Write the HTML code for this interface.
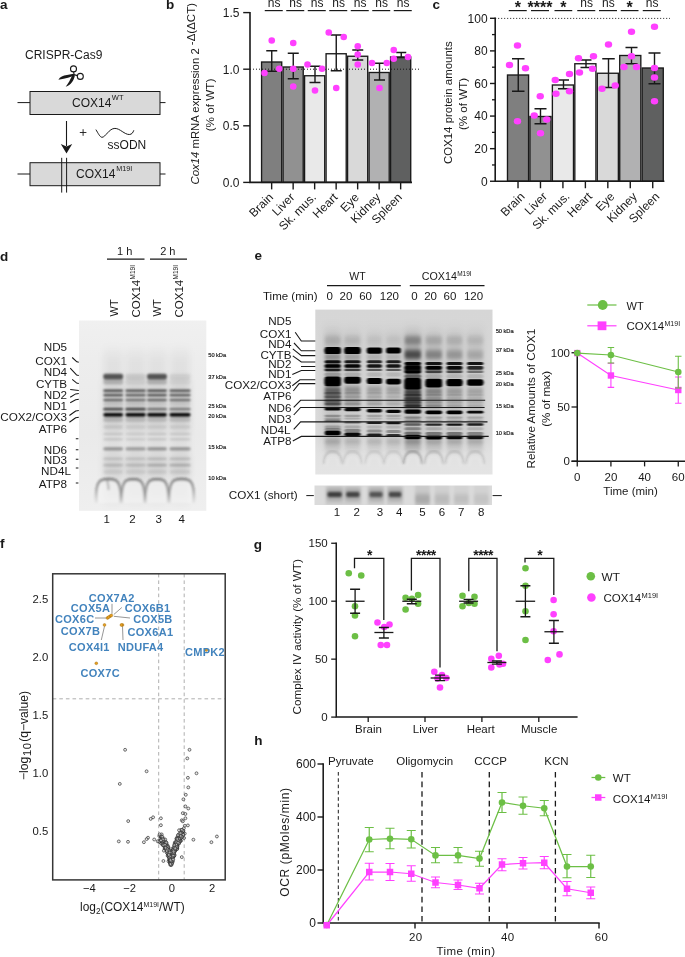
<!DOCTYPE html>
<html lang="en"><head><meta charset="utf-8"><title>Figure</title>
<style>
html,body{margin:0;padding:0;background:#fff;}
body{width:685px;height:957px;overflow:hidden;}
svg{display:block;}
</style></head><body>
<svg width="685" height="957" viewBox="0 0 685 957" font-family='"Liberation Sans", sans-serif' fill="#191919">
<defs>
<linearGradient id="archFade" gradientUnits="userSpaceOnUse" x1="0" y1="478" x2="0" y2="504">
<stop offset="0" stop-color="#000" stop-opacity="0.5"/><stop offset="0.45" stop-color="#000" stop-opacity="0.36"/><stop offset="1" stop-color="#000" stop-opacity="0.04"/>
</linearGradient>
<linearGradient id="gelDbg" x1="0" y1="0" x2="0" y2="1">
<stop offset="0" stop-color="#f0f0f0"/><stop offset="0.2" stop-color="#ededed"/><stop offset="0.6" stop-color="#eaeaea"/><stop offset="1" stop-color="#efefef"/>
</linearGradient>
<linearGradient id="gelEbg" x1="0" y1="0" x2="0" y2="1">
<stop offset="0" stop-color="#d6d6d6"/><stop offset="0.75" stop-color="#d9d9d9"/><stop offset="0.87" stop-color="#e1e1e1"/><stop offset="1" stop-color="#e4e4e4"/>
</linearGradient>
<clipPath id="clipD"><rect x="79" y="320.5" width="127.3" height="190.3"/></clipPath>
<clipPath id="clipE"><rect x="315.3" y="309.6" width="177.2" height="164.9"/></clipPath>
<clipPath id="clipE2"><rect x="314.5" y="485.5" width="177.5" height="19.5"/></clipPath>
<filter id="blurD" x="-10%" y="-10%" width="120%" height="120%"><feGaussianBlur stdDeviation="1.2 0.85"/></filter>
<filter id="blurE" x="-10%" y="-10%" width="120%" height="120%"><feGaussianBlur stdDeviation="1.15 0.7"/></filter>
<filter id="blurE3" x="-10%" y="-10%" width="120%" height="120%"><feGaussianBlur stdDeviation="1.5 2.2"/></filter>
<filter id="blurD2" x="-10%" y="-10%" width="120%" height="120%"><feGaussianBlur stdDeviation="1.3"/></filter>
<filter id="blurBig" x="-10%" y="-10%" width="120%" height="120%"><feGaussianBlur stdDeviation="3 6"/></filter>
</defs>
<g id="panel-a">
<text x="0" y="9.2" font-size="13.5" font-weight="bold">a</text>
<text x="25" y="58.75" font-size="12">CRISPR-Cas9</text>
<g id="scissors">
<circle cx="73.5" cy="68.9" r="3" fill="none" stroke="#191919" stroke-width="1.1"/>
<circle cx="80.3" cy="76.4" r="3" fill="none" stroke="#191919" stroke-width="1.1"/>
<path d="M58.4 79.7C60 76.6 63 75.6 67 74.9L73.6 73.7L74.6 75.2C71 77 66 78.6 58.4 79.7Z" fill="#191919"/>
<path d="M65.7 86.7C68 84 70.5 79.5 72.6 74.6L74.9 75.4C74 80 71 85 65.7 86.7Z" fill="#191919"/>
<path d="M73.6 71.9L74.2 75M77.4 75.6L74 74.6" fill="none" stroke="#191919" stroke-width="1.1"/>
</g>
<line x1="17.5" y1="102.6" x2="30" y2="102.6" stroke="#191919"/>
<line x1="160" y1="102.6" x2="165.5" y2="102.6" stroke="#191919"/>
<rect x="30" y="91.5" width="130" height="23" fill="#d9d9d9" stroke="#191919" stroke-width="1"/>
<text x="72" y="107" font-size="12">COX14<tspan font-size="7.5" dy="-7.4" dx="0.5">WT</tspan></text>
<line x1="66.5" y1="121" x2="66.5" y2="146" stroke-width="1.1" stroke="#191919"/>
<path d="M66.5 153.4L60.8 144.1L66.5 146.4L72.2 144.1Z" fill="#191919"/>
<path d="M79.8 132.5H86.4M83.1 129.2V135.8" fill="none" stroke="#191919" stroke-width="0.9"/>
<path d="M95.9 129.6C98 133 100 137.3 102 137.3C105.5 137.3 109 128.4 114.9 128.4C120 128.4 124.5 134.6 129.3 134.5C132 134.4 133 132.5 133.8 130.3" fill="none" stroke="#191919"/>
<text x="107.6" y="149" font-size="12">ssODN</text>
<line x1="17.5" y1="174" x2="30" y2="174" stroke="#191919"/>
<line x1="160" y1="174" x2="165.5" y2="174" stroke="#191919"/>
<rect x="30" y="162.7" width="130" height="23" fill="#d9d9d9" stroke="#191919" stroke-width="1"/>
<path d="M61.7 157.8V192.6M66.6 157.8V192.6" fill="none" stroke="#191919"/>
<text x="76" y="178" font-size="12">COX14<tspan font-size="7.2" dy="-7" dx="0.8">M19I</tspan></text>
</g>
<g id="panel-b">
<text x="166" y="9.1" font-size="13.5" font-weight="bold">b</text>
<text transform="translate(199 184.5) rotate(-90)" font-size="11.35"><tspan font-style="italic">Cox14</tspan> mRNA expression 2 <tspan font-size="11.5" dy="-4.5">-Δ(ΔCT)</tspan></text>
<text transform="translate(213.5 105) rotate(-90)" font-size="11.7" text-anchor="middle">(% of WT)</text>
<rect x="261.57" y="62" width="20.15" height="120.4" fill="#7f7f7f" stroke="#191919" stroke-width="1.35"/>
<rect x="283.07" y="67" width="20.15" height="115.4" fill="#919191" stroke="#191919" stroke-width="1.35"/>
<rect x="304.57" y="75.75" width="20.15" height="106.65" fill="#e9e9e9" stroke="#191919" stroke-width="1.35"/>
<rect x="326.07" y="53.75" width="20.15" height="128.65" fill="#ffffff" stroke="#191919" stroke-width="1.35"/>
<rect x="347.57" y="56.25" width="20.15" height="126.15" fill="#d9d9d9" stroke="#191919" stroke-width="1.35"/>
<rect x="369.07" y="72.5" width="20.15" height="109.9" fill="#b1b1b2" stroke="#191919" stroke-width="1.35"/>
<rect x="390.57" y="57" width="20.15" height="125.4" fill="#5f6060" stroke="#191919" stroke-width="1.35"/>
<line x1="250" y1="69.2" x2="421" y2="69.2" stroke="#191919" stroke-dasharray="1 2"/>
<path d="M271.75 50.75V71.25M266.25 50.75H277.25M266.25 71.25H277.25" fill="none" stroke="#191919" stroke-width="1.4"/>
<path d="M293.25 53.25V78.75M287.75 53.25H298.75M287.75 78.75H298.75" fill="none" stroke="#191919" stroke-width="1.4"/>
<path d="M315 66.25V82.5M309.5 66.25H320.5M309.5 82.5H320.5" fill="none" stroke="#191919" stroke-width="1.4"/>
<path d="M336.25 35V70.75M330.75 35H341.75M330.75 70.75H341.75" fill="none" stroke="#191919" stroke-width="1.4"/>
<path d="M357.75 50V60M352.25 50H363.25M352.25 60H363.25" fill="none" stroke="#191919" stroke-width="1.4"/>
<path d="M379.5 63.25V80M374 63.25H385M374 80H385" fill="none" stroke="#191919" stroke-width="1.4"/>
<path d="M401.25 52.5V57.5M396.25 52.5H406.25M396.25 57.5H406.25" fill="none" stroke="#191919" stroke-width="1.4"/>
<circle cx="271.75" cy="40.5" r="3.3" fill="#ff40ff"/>
<circle cx="264.5" cy="73" r="3.3" fill="#ff40ff"/>
<circle cx="279.25" cy="68.75" r="3.3" fill="#ff40ff"/>
<circle cx="293.25" cy="43" r="3.3" fill="#ff40ff"/>
<circle cx="293.25" cy="68.75" r="3.3" fill="#ff40ff"/>
<circle cx="293.25" cy="86.5" r="3.3" fill="#ff40ff"/>
<circle cx="307.5" cy="64.5" r="3.3" fill="#ff40ff"/>
<circle cx="322" cy="68.75" r="3.3" fill="#ff40ff"/>
<circle cx="315" cy="90.5" r="3.3" fill="#ff40ff"/>
<circle cx="328.75" cy="32.5" r="3.3" fill="#ff40ff"/>
<circle cx="343.75" cy="37" r="3.3" fill="#ff40ff"/>
<circle cx="336.25" cy="88" r="3.3" fill="#ff40ff"/>
<circle cx="357.75" cy="46.25" r="3.3" fill="#ff40ff"/>
<circle cx="357.75" cy="54.5" r="3.3" fill="#ff40ff"/>
<circle cx="357.75" cy="64.5" r="3.3" fill="#ff40ff"/>
<circle cx="372" cy="63" r="3.3" fill="#ff40ff"/>
<circle cx="386.75" cy="63" r="3.3" fill="#ff40ff"/>
<circle cx="379.5" cy="88" r="3.3" fill="#ff40ff"/>
<circle cx="393.75" cy="50" r="3.3" fill="#ff40ff"/>
<circle cx="393.75" cy="58.75" r="3.3" fill="#ff40ff"/>
<circle cx="408" cy="57" r="3.3" fill="#ff40ff"/>
<path d="M250 11.9V182.4H412" fill="none" stroke="#191919" stroke-width="1.6"/>
<line x1="243.2" y1="182.4" x2="250" y2="182.4" stroke-width="1.4" stroke="#191919"/>
<text x="239.4" y="187" font-size="12" text-anchor="end">0.0</text>
<line x1="243.2" y1="125.8" x2="250" y2="125.8" stroke-width="1.4" stroke="#191919"/>
<text x="239.4" y="130.4" font-size="12" text-anchor="end">0.5</text>
<line x1="243.2" y1="69.2" x2="250" y2="69.2" stroke-width="1.4" stroke="#191919"/>
<text x="239.4" y="73.8" font-size="12" text-anchor="end">1.0</text>
<line x1="243.2" y1="12.6" x2="250" y2="12.6" stroke-width="1.4" stroke="#191919"/>
<text x="239.4" y="17.2" font-size="12" text-anchor="end">1.5</text>
<line x1="271.65" y1="182.4" x2="271.65" y2="189.4" stroke-width="1.4" stroke="#191919"/>
<line x1="293.15" y1="182.4" x2="293.15" y2="189.4" stroke-width="1.4" stroke="#191919"/>
<line x1="314.65" y1="182.4" x2="314.65" y2="189.4" stroke-width="1.4" stroke="#191919"/>
<line x1="336.15" y1="182.4" x2="336.15" y2="189.4" stroke-width="1.4" stroke="#191919"/>
<line x1="357.65" y1="182.4" x2="357.65" y2="189.4" stroke-width="1.4" stroke="#191919"/>
<line x1="379.15" y1="182.4" x2="379.15" y2="189.4" stroke-width="1.4" stroke="#191919"/>
<line x1="400.65" y1="182.4" x2="400.65" y2="189.4" stroke-width="1.4" stroke="#191919"/>
<text x="273.85" y="198" font-size="12" text-anchor="end" transform="rotate(-45 273.85 198)">Brain</text>
<text x="295.35" y="198" font-size="12" text-anchor="end" transform="rotate(-45 295.35 198)">Liver</text>
<text x="316.85" y="198" font-size="12" text-anchor="end" transform="rotate(-45 316.85 198)">Sk. mus.</text>
<text x="338.35" y="198" font-size="12" text-anchor="end" transform="rotate(-45 338.35 198)">Heart</text>
<text x="359.85" y="198" font-size="12" text-anchor="end" transform="rotate(-45 359.85 198)">Eye</text>
<text x="381.35" y="198" font-size="12" text-anchor="end" transform="rotate(-45 381.35 198)">Kidney</text>
<text x="402.85" y="198" font-size="12" text-anchor="end" transform="rotate(-45 402.85 198)">Spleen</text>
<line x1="264.75" y1="10.6" x2="282.75" y2="10.6" stroke-width="1.2" stroke="#191919"/>
<text x="274.05" y="7" font-size="12" text-anchor="middle">ns</text>
<line x1="286.25" y1="10.6" x2="304.25" y2="10.6" stroke-width="1.2" stroke="#191919"/>
<text x="295.55" y="7" font-size="12" text-anchor="middle">ns</text>
<line x1="307.75" y1="10.6" x2="325.75" y2="10.6" stroke-width="1.2" stroke="#191919"/>
<text x="317.05" y="7" font-size="12" text-anchor="middle">ns</text>
<line x1="329.25" y1="10.6" x2="347.25" y2="10.6" stroke-width="1.2" stroke="#191919"/>
<text x="338.55" y="7" font-size="12" text-anchor="middle">ns</text>
<line x1="350.75" y1="10.6" x2="368.75" y2="10.6" stroke-width="1.2" stroke="#191919"/>
<text x="360.05" y="7" font-size="12" text-anchor="middle">ns</text>
<line x1="372.25" y1="10.6" x2="390.25" y2="10.6" stroke-width="1.2" stroke="#191919"/>
<text x="381.55" y="7" font-size="12" text-anchor="middle">ns</text>
<line x1="393.75" y1="10.6" x2="411.75" y2="10.6" stroke-width="1.2" stroke="#191919"/>
<text x="403.05" y="7" font-size="12" text-anchor="middle">ns</text>
</g>
<g id="panel-c">
<text x="432.5" y="9.2" font-size="13.5" font-weight="bold">c</text>
<text x="452.2" y="102.7" font-size="11.45" text-anchor="middle" transform="rotate(-90 452.2 102.7)">COX14 protein amounts</text>
<text x="466.8" y="104" font-size="11.6" text-anchor="middle" transform="rotate(-90 466.8 104)">(% of WT)</text>
<rect x="507.48" y="75" width="21.1" height="106.25" fill="#7f7f7f" stroke="#191919" stroke-width="1.35"/>
<rect x="529.92" y="116.5" width="21.1" height="64.75" fill="#919191" stroke="#191919" stroke-width="1.35"/>
<rect x="552.38" y="85" width="21.1" height="96.25" fill="#e9e9e9" stroke="#191919" stroke-width="1.35"/>
<rect x="574.82" y="63.75" width="21.1" height="117.5" fill="#ffffff" stroke="#191919" stroke-width="1.35"/>
<rect x="597.27" y="73.25" width="21.1" height="108" fill="#d9d9d9" stroke="#191919" stroke-width="1.35"/>
<rect x="619.72" y="55.5" width="21.1" height="125.75" fill="#b1b1b2" stroke="#191919" stroke-width="1.35"/>
<rect x="642.17" y="68" width="21.1" height="113.25" fill="#5f6060" stroke="#191919" stroke-width="1.35"/>
<line x1="495.2" y1="18.4" x2="670" y2="18.4" stroke="#191919" stroke-dasharray="1 2"/>
<path d="M518.25 58.75V91.25M512 58.75H524.5M512 91.25H524.5" fill="none" stroke="#191919" stroke-width="1.4"/>
<path d="M540.5 108.75V123.75M534.5 108.75H546.5M534.5 123.75H546.5" fill="none" stroke="#191919" stroke-width="1.4"/>
<path d="M563.5 80V88.75M558 80H569M558 88.75H569" fill="none" stroke="#191919" stroke-width="1.4"/>
<path d="M586 60V67.5M580.5 60H591.5M580.5 67.5H591.5" fill="none" stroke="#191919" stroke-width="1.4"/>
<path d="M608.5 58.75V87.5M602.25 58.75H614.75M602.25 87.5H614.75" fill="none" stroke="#191919" stroke-width="1.4"/>
<path d="M631.5 47.5V63.75M625.5 47.5H637.5M625.5 63.75H637.5" fill="none" stroke="#191919" stroke-width="1.4"/>
<path d="M654.5 53V83.75M648.5 53H660.5M648.5 83.75H660.5" fill="none" stroke="#191919" stroke-width="1.4"/>
<ellipse cx="517.5" cy="45.5" rx="3.7" ry="3.3" fill="#ff40ff"/>
<ellipse cx="509.5" cy="65" rx="3.7" ry="3.3" fill="#ff40ff"/>
<ellipse cx="525.5" cy="68.25" rx="3.7" ry="3.3" fill="#ff40ff"/>
<ellipse cx="517.5" cy="121.25" rx="3.7" ry="3.3" fill="#ff40ff"/>
<ellipse cx="540.25" cy="96.25" rx="3.7" ry="3.3" fill="#ff40ff"/>
<ellipse cx="534.25" cy="115.5" rx="3.7" ry="3.3" fill="#ff40ff"/>
<ellipse cx="546.75" cy="119.5" rx="3.7" ry="3.3" fill="#ff40ff"/>
<ellipse cx="540.5" cy="133.25" rx="3.7" ry="3.3" fill="#ff40ff"/>
<ellipse cx="555.25" cy="80" rx="3.7" ry="3.3" fill="#ff40ff"/>
<ellipse cx="569.5" cy="74" rx="3.7" ry="3.3" fill="#ff40ff"/>
<ellipse cx="556" cy="93.75" rx="3.7" ry="3.3" fill="#ff40ff"/>
<ellipse cx="569.5" cy="91.25" rx="3.7" ry="3.3" fill="#ff40ff"/>
<ellipse cx="578.5" cy="58.25" rx="3.7" ry="3.3" fill="#ff40ff"/>
<ellipse cx="593.5" cy="56.25" rx="3.7" ry="3.3" fill="#ff40ff"/>
<ellipse cx="579.5" cy="72.5" rx="3.7" ry="3.3" fill="#ff40ff"/>
<ellipse cx="592.5" cy="68.75" rx="3.7" ry="3.3" fill="#ff40ff"/>
<ellipse cx="608.5" cy="44.5" rx="3.7" ry="3.3" fill="#ff40ff"/>
<ellipse cx="602" cy="88.75" rx="3.7" ry="3.3" fill="#ff40ff"/>
<ellipse cx="615.25" cy="85.5" rx="3.7" ry="3.3" fill="#ff40ff"/>
<ellipse cx="631.5" cy="31.75" rx="3.7" ry="3.3" fill="#ff40ff"/>
<ellipse cx="631.5" cy="56.25" rx="3.7" ry="3.3" fill="#ff40ff"/>
<ellipse cx="624" cy="67" rx="3.7" ry="3.3" fill="#ff40ff"/>
<ellipse cx="636.5" cy="67" rx="3.7" ry="3.3" fill="#ff40ff"/>
<ellipse cx="654.5" cy="26.75" rx="3.7" ry="3.3" fill="#ff40ff"/>
<ellipse cx="654.5" cy="68" rx="3.7" ry="3.3" fill="#ff40ff"/>
<ellipse cx="654.5" cy="77.5" rx="3.7" ry="3.3" fill="#ff40ff"/>
<ellipse cx="654.5" cy="101.25" rx="3.7" ry="3.3" fill="#ff40ff"/>
<path d="M495.2 17.6V181.25H664.4" fill="none" stroke="#191919" stroke-width="1.6"/>
<line x1="490" y1="181.25" x2="495.2" y2="181.25" stroke-width="1.4" stroke="#191919"/>
<text x="487.6" y="185.65" font-size="12" text-anchor="end">0</text>
<line x1="492" y1="164.96" x2="495.2" y2="164.96" stroke-width="1.3" stroke="#191919"/>
<line x1="490" y1="148.66" x2="495.2" y2="148.66" stroke-width="1.4" stroke="#191919"/>
<text x="487.6" y="153.06" font-size="12" text-anchor="end">20</text>
<line x1="492" y1="132.37" x2="495.2" y2="132.37" stroke-width="1.3" stroke="#191919"/>
<line x1="490" y1="116.07" x2="495.2" y2="116.07" stroke-width="1.4" stroke="#191919"/>
<text x="487.6" y="120.47" font-size="12" text-anchor="end">40</text>
<line x1="492" y1="99.78" x2="495.2" y2="99.78" stroke-width="1.3" stroke="#191919"/>
<line x1="490" y1="83.48" x2="495.2" y2="83.48" stroke-width="1.4" stroke="#191919"/>
<text x="487.6" y="87.88" font-size="12" text-anchor="end">60</text>
<line x1="492" y1="67.19" x2="495.2" y2="67.19" stroke-width="1.3" stroke="#191919"/>
<line x1="490" y1="50.89" x2="495.2" y2="50.89" stroke-width="1.4" stroke="#191919"/>
<text x="487.6" y="55.29" font-size="12" text-anchor="end">80</text>
<line x1="492" y1="34.59" x2="495.2" y2="34.59" stroke-width="1.3" stroke="#191919"/>
<line x1="490" y1="18.3" x2="495.2" y2="18.3" stroke-width="1.4" stroke="#191919"/>
<text x="487.6" y="22.7" font-size="12" text-anchor="end">100</text>
<line x1="518.02" y1="181.25" x2="518.02" y2="188.25" stroke-width="1.4" stroke="#191919"/>
<line x1="540.48" y1="181.25" x2="540.48" y2="188.25" stroke-width="1.4" stroke="#191919"/>
<line x1="562.92" y1="181.25" x2="562.92" y2="188.25" stroke-width="1.4" stroke="#191919"/>
<line x1="585.38" y1="181.25" x2="585.38" y2="188.25" stroke-width="1.4" stroke="#191919"/>
<line x1="607.83" y1="181.25" x2="607.83" y2="188.25" stroke-width="1.4" stroke="#191919"/>
<line x1="630.27" y1="181.25" x2="630.27" y2="188.25" stroke-width="1.4" stroke="#191919"/>
<line x1="652.73" y1="181.25" x2="652.73" y2="188.25" stroke-width="1.4" stroke="#191919"/>
<text x="525.42" y="197.2" font-size="12" text-anchor="end" transform="rotate(-45 525.42 197.2)">Brain</text>
<text x="547.88" y="197.2" font-size="12" text-anchor="end" transform="rotate(-45 547.88 197.2)">Liver</text>
<text x="570.32" y="197.2" font-size="12" text-anchor="end" transform="rotate(-45 570.32 197.2)">Sk. mus.</text>
<text x="592.77" y="197.2" font-size="12" text-anchor="end" transform="rotate(-45 592.77 197.2)">Heart</text>
<text x="615.23" y="197.2" font-size="12" text-anchor="end" transform="rotate(-45 615.23 197.2)">Eye</text>
<text x="637.67" y="197.2" font-size="12" text-anchor="end" transform="rotate(-45 637.67 197.2)">Kidney</text>
<text x="660.12" y="197.2" font-size="12" text-anchor="end" transform="rotate(-45 660.12 197.2)">Spleen</text>
<line x1="508.75" y1="10.6" x2="526.75" y2="10.6" stroke-width="1.2" stroke="#191919"/>
<text x="517.75" y="13.2" font-size="16" text-anchor="middle" font-weight="bold">*</text>
<line x1="531" y1="10.6" x2="549" y2="10.6" stroke-width="1.2" stroke="#191919"/>
<text x="540" y="13.2" font-size="16" text-anchor="middle" font-weight="bold">****</text>
<line x1="554.5" y1="10.6" x2="572.25" y2="10.6" stroke-width="1.2" stroke="#191919"/>
<text x="563.38" y="13.2" font-size="16" text-anchor="middle" font-weight="bold">*</text>
<line x1="577.25" y1="10.6" x2="595.25" y2="10.6" stroke-width="1.2" stroke="#191919"/>
<text x="586.55" y="7.1" font-size="12" text-anchor="middle">ns</text>
<line x1="599" y1="10.6" x2="617" y2="10.6" stroke-width="1.2" stroke="#191919"/>
<text x="608.3" y="7.1" font-size="12" text-anchor="middle">ns</text>
<line x1="620.75" y1="10.6" x2="638.5" y2="10.6" stroke-width="1.2" stroke="#191919"/>
<text x="629.62" y="13.2" font-size="16" text-anchor="middle" font-weight="bold">*</text>
<line x1="642.75" y1="10.6" x2="660.75" y2="10.6" stroke-width="1.2" stroke="#191919"/>
<text x="652.05" y="7.1" font-size="12" text-anchor="middle">ns</text>
</g>
<g id="panel-d">
<text x="0" y="260.6" font-size="13.5" font-weight="bold">d</text>
<text x="124.7" y="254.5" font-size="11" text-anchor="middle">1 h</text>
<text x="167.8" y="254.5" font-size="11" text-anchor="middle">2 h</text>
<line x1="107" y1="259.1" x2="144.5" y2="259.1" stroke-width="1.2" stroke="#191919"/>
<line x1="150" y1="259.1" x2="187" y2="259.1" stroke-width="1.2" stroke="#191919"/>
<text x="117.5" y="316.5" font-size="11" transform="rotate(-90 117.5 316.5)">WT</text>
<text x="160.5" y="316.5" font-size="11" transform="rotate(-90 160.5 316.5)">WT</text>
<text x="139.5" y="317.5" font-size="11.5" transform="rotate(-90 139.5 317.5)">COX14<tspan font-size="6.5" dy="-4.8" dx="0.3">M19I</tspan></text>
<text x="182.5" y="317.5" font-size="11.5" transform="rotate(-90 182.5 317.5)">COX14<tspan font-size="6.5" dy="-4.8" dx="0.3">M19I</tspan></text>
<rect x="79" y="320.5" width="127.3" height="190.3" fill="url(#gelDbg)"/>
<g clip-path="url(#clipD)"><g filter="url(#blurBig)">
<rect x="103.7" y="352" width="19" height="150" fill="#000" fill-opacity="0.05"/>
<rect x="102.7" y="380" width="21" height="50" fill="#000" fill-opacity="0.05"/>
<rect x="103.2" y="456" width="20" height="20" fill="#000" fill-opacity="0.07"/>
<rect x="126.1" y="352" width="19" height="150" fill="#000" fill-opacity="0.05"/>
<rect x="125.1" y="380" width="21" height="50" fill="#000" fill-opacity="0.05"/>
<rect x="125.6" y="456" width="20" height="20" fill="#000" fill-opacity="0.07"/>
<rect x="147.5" y="352" width="19" height="150" fill="#000" fill-opacity="0.05"/>
<rect x="146.5" y="380" width="21" height="50" fill="#000" fill-opacity="0.05"/>
<rect x="147" y="456" width="20" height="20" fill="#000" fill-opacity="0.07"/>
<rect x="170.5" y="352" width="19" height="150" fill="#000" fill-opacity="0.05"/>
<rect x="169.5" y="380" width="21" height="50" fill="#000" fill-opacity="0.05"/>
<rect x="170" y="456" width="20" height="20" fill="#000" fill-opacity="0.07"/>
</g></g>
<g clip-path="url(#clipD)"><g filter="url(#blurD)">
<rect x="103.3" y="373.7" width="19.8" height="5.6" rx="2" fill="#000" fill-opacity="0.62"/>
<rect x="125.4" y="373.7" width="20.4" height="5.6" rx="2" fill="#000" fill-opacity="0.1"/>
<rect x="147.1" y="373.7" width="19.8" height="5.6" rx="2" fill="#000" fill-opacity="0.62"/>
<rect x="169.4" y="373.7" width="21.2" height="5.6" rx="2" fill="#000" fill-opacity="0.08"/>
<rect x="103.3" y="378.5" width="19.8" height="6" rx="2" fill="#000" fill-opacity="0.2"/>
<rect x="125.4" y="378.5" width="20.4" height="6" rx="2" fill="#000" fill-opacity="0.07"/>
<rect x="147.1" y="378.5" width="19.8" height="6" rx="2" fill="#000" fill-opacity="0.2"/>
<rect x="169.4" y="378.5" width="21.2" height="6" rx="2" fill="#000" fill-opacity="0.06"/>
<rect x="103.3" y="389.6" width="19.8" height="2.4" rx="1.2" fill="#000" fill-opacity="0.66"/>
<rect x="125.4" y="389.6" width="20.4" height="2.4" rx="1.2" fill="#000" fill-opacity="0.62"/>
<rect x="147.1" y="389.6" width="19.8" height="2.4" rx="1.2" fill="#000" fill-opacity="0.66"/>
<rect x="169.4" y="389.6" width="21.2" height="2.4" rx="1.2" fill="#000" fill-opacity="0.62"/>
<rect x="103.3" y="393.9" width="19.8" height="2.4" rx="1.2" fill="#000" fill-opacity="0.68"/>
<rect x="125.4" y="393.9" width="20.4" height="2.4" rx="1.2" fill="#000" fill-opacity="0.62"/>
<rect x="147.1" y="393.9" width="19.8" height="2.4" rx="1.2" fill="#000" fill-opacity="0.68"/>
<rect x="169.4" y="393.9" width="21.2" height="2.4" rx="1.2" fill="#000" fill-opacity="0.64"/>
<rect x="103.3" y="398.8" width="19.8" height="2.4" rx="1.2" fill="#000" fill-opacity="0.56"/>
<rect x="125.4" y="398.8" width="20.4" height="2.4" rx="1.2" fill="#000" fill-opacity="0.5"/>
<rect x="147.1" y="398.8" width="19.8" height="2.4" rx="1.2" fill="#000" fill-opacity="0.56"/>
<rect x="169.4" y="398.8" width="21.2" height="2.4" rx="1.2" fill="#000" fill-opacity="0.52"/>
<rect x="103.3" y="402.5" width="19.8" height="3" rx="1.5" fill="#000" fill-opacity="0.12"/>
<rect x="125.4" y="402.5" width="20.4" height="3" rx="1.5" fill="#000" fill-opacity="0.12"/>
<rect x="147.1" y="402.5" width="19.8" height="3" rx="1.5" fill="#000" fill-opacity="0.1"/>
<rect x="169.4" y="402.5" width="21.2" height="3" rx="1.5" fill="#000" fill-opacity="0.1"/>
<rect x="103.3" y="407.85" width="19.8" height="2.7" rx="1.35" fill="#000" fill-opacity="0.68"/>
<rect x="125.4" y="407.85" width="20.4" height="2.7" rx="1.35" fill="#000" fill-opacity="0.7"/>
<rect x="147.1" y="407.85" width="19.8" height="2.7" rx="1.35" fill="#000" fill-opacity="0.48"/>
<rect x="169.4" y="407.85" width="21.2" height="2.7" rx="1.35" fill="#000" fill-opacity="0.44"/>
<rect x="103.3" y="413" width="19.8" height="3.6" rx="1.8" fill="#000" fill-opacity="1"/>
<rect x="125.4" y="413" width="20.4" height="3.6" rx="1.8" fill="#000" fill-opacity="1"/>
<rect x="147.1" y="413" width="19.8" height="3.6" rx="1.8" fill="#000" fill-opacity="1"/>
<rect x="169.4" y="413" width="21.2" height="3.6" rx="1.8" fill="#000" fill-opacity="1"/>
<rect x="103.3" y="417" width="19.8" height="5" rx="2" fill="#000" fill-opacity="0.16"/>
<rect x="125.4" y="417" width="20.4" height="5" rx="2" fill="#000" fill-opacity="0.14"/>
<rect x="147.1" y="417" width="19.8" height="5" rx="2" fill="#000" fill-opacity="0.14"/>
<rect x="169.4" y="417" width="21.2" height="5" rx="2" fill="#000" fill-opacity="0.14"/>
<rect x="103.3" y="425" width="19.8" height="4" rx="2" fill="#000" fill-opacity="0.09"/>
<rect x="125.4" y="425" width="20.4" height="4" rx="2" fill="#000" fill-opacity="0.07"/>
<rect x="147.1" y="425" width="19.8" height="4" rx="2" fill="#000" fill-opacity="0.08"/>
<rect x="169.4" y="425" width="21.2" height="4" rx="2" fill="#000" fill-opacity="0.08"/>
<rect x="103.3" y="432.9" width="19.8" height="2.2" rx="1.1" fill="#000" fill-opacity="0.13"/>
<rect x="125.4" y="432.9" width="20.4" height="2.2" rx="1.1" fill="#000" fill-opacity="0.1"/>
<rect x="147.1" y="432.9" width="19.8" height="2.2" rx="1.1" fill="#000" fill-opacity="0.12"/>
<rect x="169.4" y="432.9" width="21.2" height="2.2" rx="1.1" fill="#000" fill-opacity="0.12"/>
<rect x="103.3" y="438.2" width="19.8" height="2.2" rx="1.1" fill="#000" fill-opacity="0.13"/>
<rect x="125.4" y="438.2" width="20.4" height="2.2" rx="1.1" fill="#000" fill-opacity="0.1"/>
<rect x="147.1" y="438.2" width="19.8" height="2.2" rx="1.1" fill="#000" fill-opacity="0.12"/>
<rect x="169.4" y="438.2" width="21.2" height="2.2" rx="1.1" fill="#000" fill-opacity="0.12"/>
<rect x="103.3" y="447.2" width="19.8" height="3.2" rx="1.6" fill="#000" fill-opacity="0.34"/>
<rect x="125.4" y="447.2" width="20.4" height="3.2" rx="1.6" fill="#000" fill-opacity="0.3"/>
<rect x="147.1" y="447.2" width="19.8" height="3.2" rx="1.6" fill="#000" fill-opacity="0.34"/>
<rect x="169.4" y="447.2" width="21.2" height="3.2" rx="1.6" fill="#000" fill-opacity="0.34"/>
<rect x="103.3" y="457.5" width="19.8" height="2.6" rx="1.3" fill="#000" fill-opacity="0.12"/>
<rect x="125.4" y="457.5" width="20.4" height="2.6" rx="1.3" fill="#000" fill-opacity="0.12"/>
<rect x="147.1" y="457.5" width="19.8" height="2.6" rx="1.3" fill="#000" fill-opacity="0.15"/>
<rect x="169.4" y="457.5" width="21.2" height="2.6" rx="1.3" fill="#000" fill-opacity="0.15"/>
<rect x="103.3" y="463.8" width="19.8" height="2.8" rx="1.4" fill="#000" fill-opacity="0.15"/>
<rect x="125.4" y="463.8" width="20.4" height="2.8" rx="1.4" fill="#000" fill-opacity="0.14"/>
<rect x="147.1" y="463.8" width="19.8" height="2.8" rx="1.4" fill="#000" fill-opacity="0.2"/>
<rect x="169.4" y="463.8" width="21.2" height="2.8" rx="1.4" fill="#000" fill-opacity="0.2"/>
<rect x="103.3" y="470" width="19.8" height="4" rx="2" fill="#000" fill-opacity="0.07"/>
<rect x="125.4" y="470" width="20.4" height="4" rx="2" fill="#000" fill-opacity="0.07"/>
<rect x="147.1" y="470" width="19.8" height="4" rx="2" fill="#000" fill-opacity="0.08"/>
<rect x="169.4" y="470" width="21.2" height="4" rx="2" fill="#000" fill-opacity="0.08"/>
</g></g>
<g clip-path="url(#clipD)"><g filter="url(#blurD2)">
<path d="M96.3 503C95.7 492 96.3 482.5 101.5 480.3C105.35 479 111.35 479 115.2 480.3C120.4 482.5 121 492 120.4 503" fill="#f6f6f6" fill-opacity="0.55" stroke="none"/>
<path d="M96.3 503C95.7 492 96.3 482.5 101.5 480.3C105.35 479 111.35 479 115.2 480.3C120.4 482.5 121 492 120.4 503" fill="none" stroke="url(#archFade)" stroke-width="2.6"/>
<path d="M107.35 480.5C107.85 485 108.85 487 108.35 490" fill="none" stroke="#000" stroke-opacity="0.2" stroke-width="2.5"/>
<path d="M122 503C121.4 492 122 482.5 127.2 480.3C130.1 479 136.1 479 139 480.3C144.2 482.5 144.8 492 144.2 503" fill="#f6f6f6" fill-opacity="0.55" stroke="none"/>
<path d="M122 503C121.4 492 122 482.5 127.2 480.3C130.1 479 136.1 479 139 480.3C144.2 482.5 144.8 492 144.2 503" fill="none" stroke="url(#archFade)" stroke-width="2.6"/>
<path d="M145.8 503C145.2 492 145.8 482.5 151 480.3C153.9 479 159.9 479 162.8 480.3C168 482.5 168.6 492 168 503" fill="#f6f6f6" fill-opacity="0.55" stroke="none"/>
<path d="M145.8 503C145.2 492 145.8 482.5 151 480.3C153.9 479 159.9 479 162.8 480.3C168 482.5 168.6 492 168 503" fill="none" stroke="url(#archFade)" stroke-width="2.6"/>
<path d="M169.6 503C169 492 169.6 482.5 174.8 480.3C178.65 479 184.65 479 188.5 480.3C193.7 482.5 194.3 492 193.7 503" fill="#f6f6f6" fill-opacity="0.55" stroke="none"/>
<path d="M169.6 503C169 492 169.6 482.5 174.8 480.3C178.65 479 184.65 479 188.5 480.3C193.7 482.5 194.3 492 193.7 503" fill="none" stroke="url(#archFade)" stroke-width="2.6"/>
</g></g>
<text x="208.3" y="357.3" font-size="5.7" letter-spacing="-0.05" stroke="#191919" stroke-width="0.18">50 kDa</text>
<text x="208.3" y="379" font-size="5.7" letter-spacing="-0.05" stroke="#191919" stroke-width="0.18">37 kDa</text>
<text x="208.3" y="407.5" font-size="5.7" letter-spacing="-0.05" stroke="#191919" stroke-width="0.18">25 kDa</text>
<text x="208.3" y="418" font-size="5.7" letter-spacing="-0.05" stroke="#191919" stroke-width="0.18">20 kDa</text>
<text x="208.3" y="448.5" font-size="5.7" letter-spacing="-0.05" stroke="#191919" stroke-width="0.18">15 kDa</text>
<text x="208.3" y="479.5" font-size="5.7" letter-spacing="-0.05" stroke="#191919" stroke-width="0.18">10 kDa</text>
<text x="106.8" y="523" font-size="11.5" text-anchor="middle">1</text>
<text x="132.5" y="523" font-size="11.5" text-anchor="middle">2</text>
<text x="158.8" y="523" font-size="11.5" text-anchor="middle">3</text>
<text x="181.8" y="523" font-size="11.5" text-anchor="middle">4</text>
<text x="67.1" y="351.3" font-size="11.7" text-anchor="end">ND5</text>
<text x="67.1" y="364.9" font-size="11.7" text-anchor="end">COX1</text>
<text x="67.1" y="376.1" font-size="11.7" text-anchor="end">ND4</text>
<text x="67.1" y="388" font-size="11.7" text-anchor="end">CYTB</text>
<text x="67.1" y="398.9" font-size="11.7" text-anchor="end">ND2</text>
<text x="67.1" y="409.5" font-size="11.7" text-anchor="end">ND1</text>
<text x="67.1" y="420.9" font-size="11.7" text-anchor="end">COX2/COX3</text>
<text x="67.1" y="433.2" font-size="11.7" text-anchor="end">ATP6</text>
<text x="67.1" y="454.2" font-size="11.7" text-anchor="end">ND6</text>
<text x="67.1" y="464.2" font-size="11.7" text-anchor="end">ND3</text>
<text x="67.1" y="487.5" font-size="11.7" text-anchor="end">ATP8</text>
<text x="70.9" y="475.1" font-size="11.7" text-anchor="end">ND4L</text>
<path d="M72.2 357.5L76.9 361.8L78.8 362.2M70.2 368.2L76.5 374.9L78.8 375.5M72.2 379.4L76.5 382.9L78.8 383.6M70.2 389.6L78.8 390.5M70.2 397.3L75.7 393.9L78.8 393.4M70.2 402.7L75.7 399.8L78.8 399.3M69.4 415.5L75.7 411L78.8 410.4M69.4 422.3L75.7 417.8L78.8 417.3M75.8 438.7H78.4M75.8 449.8H78.4M75.8 459.2H78.4M75.8 468H78.4M75.8 483H78.4" fill="none" stroke="#191919" stroke-width="1.05" stroke-linejoin="round"/>
</g>
<g id="panel-e">
<text x="254.5" y="260" font-size="13.5" font-weight="bold">e</text>
<text x="357.5" y="279.5" font-size="10.5" text-anchor="middle">WT</text>
<text x="421.8" y="279.5" font-size="10.7">COX14<tspan font-size="6.5" dy="-4" dx="0.3">M19I</tspan></text>
<line x1="327" y1="285.6" x2="400.8" y2="285.6" stroke-width="1.15" stroke="#191919"/>
<line x1="409.8" y1="285.6" x2="484.5" y2="285.6" stroke-width="1.15" stroke="#191919"/>
<text x="263" y="300" font-size="11.5">Time (min)</text>
<text x="329.8" y="300" font-size="11.5" text-anchor="middle">0</text>
<text x="346" y="300" font-size="11.5" text-anchor="middle">20</text>
<text x="365.6" y="300" font-size="11.5" text-anchor="middle">60</text>
<text x="389.4" y="300" font-size="11.5" text-anchor="middle">120</text>
<text x="414.5" y="300" font-size="11.5" text-anchor="middle">0</text>
<text x="430.6" y="300" font-size="11.5" text-anchor="middle">20</text>
<text x="450" y="300" font-size="11.5" text-anchor="middle">60</text>
<text x="473.5" y="300" font-size="11.5" text-anchor="middle">120</text>
<rect x="315.3" y="309.6" width="177.2" height="164.9" fill="url(#gelEbg)"/>
<g clip-path="url(#clipE)"><g filter="url(#blurBig)">
<rect x="324.2" y="330" width="17" height="118" fill="#000" fill-opacity="0.1"/>
<rect x="344" y="330" width="17" height="118" fill="#000" fill-opacity="0.07"/>
<rect x="365.9" y="330" width="17" height="118" fill="#000" fill-opacity="0.06"/>
<rect x="385" y="330" width="17" height="118" fill="#000" fill-opacity="0.06"/>
<rect x="404.3" y="330" width="17" height="118" fill="#000" fill-opacity="0.14"/>
<rect x="425.3" y="330" width="17" height="118" fill="#000" fill-opacity="0.09"/>
<rect x="446" y="330" width="17" height="118" fill="#000" fill-opacity="0.08"/>
<rect x="466.7" y="330" width="17" height="118" fill="#000" fill-opacity="0.07"/>
</g></g>
<g clip-path="url(#clipE)"><g filter="url(#blurE3)">
<rect x="324.6" y="336" width="16.2" height="9" rx="2.2" fill="#000" fill-opacity="0.12"/>
<rect x="344.4" y="336" width="16.2" height="9" rx="2.2" fill="#000" fill-opacity="0.1"/>
<rect x="366.8" y="336" width="15.2" height="9" rx="2.2" fill="#000" fill-opacity="0.06"/>
<rect x="386.2" y="336" width="14.6" height="9" rx="2.2" fill="#000" fill-opacity="0.06"/>
<rect x="404.5" y="336" width="16.6" height="9" rx="2.2" fill="#000" fill-opacity="0.3"/>
<rect x="425.5" y="336" width="16.6" height="9" rx="2.2" fill="#000" fill-opacity="0.16"/>
<rect x="446.5" y="336" width="16" height="9" rx="2.2" fill="#000" fill-opacity="0.13"/>
<rect x="467" y="336" width="16.4" height="9" rx="2.2" fill="#000" fill-opacity="0.1"/>
<rect x="404.5" y="349.5" width="16.6" height="9" rx="2.2" fill="#000" fill-opacity="0.56"/>
<rect x="425.5" y="349.5" width="16.6" height="9" rx="2.2" fill="#000" fill-opacity="0.3"/>
<rect x="446.5" y="349.5" width="16" height="9" rx="2.2" fill="#000" fill-opacity="0.22"/>
<rect x="467" y="349.5" width="16.4" height="9" rx="2.2" fill="#000" fill-opacity="0.15"/>
<rect x="324.6" y="354" width="16.2" height="6" rx="2.2" fill="#000" fill-opacity="0.3"/>
<rect x="344.4" y="354" width="16.2" height="6" rx="2.2" fill="#000" fill-opacity="0.24"/>
<rect x="366.8" y="354" width="15.2" height="6" rx="2.2" fill="#000" fill-opacity="0.16"/>
<rect x="386.2" y="354" width="14.6" height="6" rx="2.2" fill="#000" fill-opacity="0.16"/>
<rect x="404.5" y="354" width="16.6" height="6" rx="2.2" fill="#000" fill-opacity="0.2"/>
<rect x="425.5" y="354" width="16.6" height="6" rx="2.2" fill="#000" fill-opacity="0.1"/>
<rect x="446.5" y="354" width="16" height="6" rx="2.2" fill="#000" fill-opacity="0.08"/>
<rect x="467" y="354" width="16.4" height="6" rx="2.2" fill="#000" fill-opacity="0.06"/>
<rect x="324.6" y="386" width="16.2" height="6" rx="2.2" fill="#000" fill-opacity="0.4"/>
<rect x="344.4" y="386" width="16.2" height="6" rx="2.2" fill="#000" fill-opacity="0.26"/>
<rect x="366.8" y="386" width="15.2" height="6" rx="2.2" fill="#000" fill-opacity="0.2"/>
<rect x="386.2" y="386" width="14.6" height="6" rx="2.2" fill="#000" fill-opacity="0.2"/>
<rect x="404.5" y="387.8" width="16.6" height="6" rx="2.2" fill="#000" fill-opacity="0.55"/>
<rect x="425.5" y="387.8" width="16.6" height="6" rx="2.2" fill="#000" fill-opacity="0.32"/>
<rect x="446.5" y="387.8" width="16" height="6" rx="2.2" fill="#000" fill-opacity="0.22"/>
<rect x="467" y="387.8" width="16.4" height="6" rx="2.2" fill="#000" fill-opacity="0.18"/>
<rect x="324.6" y="389" width="16.2" height="18" rx="2.2" fill="#000" fill-opacity="0.4"/>
<rect x="344.4" y="389" width="16.2" height="18" rx="2.2" fill="#000" fill-opacity="0.15"/>
<rect x="366.8" y="389" width="15.2" height="18" rx="2.2" fill="#000" fill-opacity="0.1"/>
<rect x="386.2" y="389" width="14.6" height="18" rx="2.2" fill="#000" fill-opacity="0.08"/>
<rect x="404.5" y="390.8" width="16.6" height="18" rx="2.2" fill="#000" fill-opacity="0.52"/>
<rect x="425.5" y="390.8" width="16.6" height="18" rx="2.2" fill="#000" fill-opacity="0.17"/>
<rect x="446.5" y="390.8" width="16" height="18" rx="2.2" fill="#000" fill-opacity="0.1"/>
<rect x="467" y="390.8" width="16.4" height="18" rx="2.2" fill="#000" fill-opacity="0.08"/>
<rect x="324.6" y="439" width="16.2" height="5" rx="2.2" fill="#000" fill-opacity="0.22"/>
<rect x="344.4" y="439" width="16.2" height="5" rx="2.2" fill="#000" fill-opacity="0.17"/>
<rect x="366.8" y="439" width="15.2" height="5" rx="2.2" fill="#000" fill-opacity="0.17"/>
<rect x="386.2" y="439" width="14.6" height="5" rx="2.2" fill="#000" fill-opacity="0.17"/>
<rect x="404.5" y="439" width="16.6" height="5" rx="2.2" fill="#000" fill-opacity="0.32"/>
<rect x="425.5" y="439" width="16.6" height="5" rx="2.2" fill="#000" fill-opacity="0.24"/>
<rect x="446.5" y="439" width="16" height="5" rx="2.2" fill="#000" fill-opacity="0.22"/>
<rect x="467" y="439" width="16.4" height="5" rx="2.2" fill="#000" fill-opacity="0.22"/>
<rect x="324.6" y="445" width="16.2" height="6" rx="2.2" fill="#000" fill-opacity="0.08"/>
<rect x="344.4" y="445" width="16.2" height="6" rx="2.2" fill="#000" fill-opacity="0.06"/>
<rect x="366.8" y="445" width="15.2" height="6" rx="2.2" fill="#000" fill-opacity="0.06"/>
<rect x="386.2" y="445" width="14.6" height="6" rx="2.2" fill="#000" fill-opacity="0.06"/>
<rect x="404.5" y="445" width="16.6" height="6" rx="2.2" fill="#000" fill-opacity="0.15"/>
<rect x="425.5" y="445" width="16.6" height="6" rx="2.2" fill="#000" fill-opacity="0.1"/>
<rect x="446.5" y="445" width="16" height="6" rx="2.2" fill="#000" fill-opacity="0.08"/>
<rect x="467" y="445" width="16.4" height="6" rx="2.2" fill="#000" fill-opacity="0.08"/>
</g></g>
<g clip-path="url(#clipE)"><g filter="url(#blurE)">
<rect x="324.6" y="347.1" width="16.2" height="7" rx="2.2" fill="#000" fill-opacity="1"/>
<rect x="344.4" y="347.1" width="16.2" height="7" rx="2.2" fill="#000" fill-opacity="1"/>
<rect x="366.8" y="347.5" width="15.2" height="6.2" rx="2.2" fill="#000" fill-opacity="1"/>
<rect x="386.2" y="347.6" width="14.6" height="6" rx="2.2" fill="#000" fill-opacity="1"/>
<rect x="324.6" y="348.1" width="16.2" height="5" rx="2.2" fill="#000" fill-opacity="0.9"/>
<rect x="344.4" y="348.1" width="16.2" height="5" rx="2.2" fill="#000" fill-opacity="0.9"/>
<rect x="366.8" y="348.4" width="15.2" height="4.4" rx="2.2" fill="#000" fill-opacity="0.7"/>
<rect x="386.2" y="348.5" width="14.6" height="4.2" rx="2.1" fill="#000" fill-opacity="0.7"/>
<rect x="324.6" y="360.15" width="16.2" height="3.1" rx="1.55" fill="#000" fill-opacity="0.92"/>
<rect x="344.4" y="360.15" width="16.2" height="3.1" rx="1.55" fill="#000" fill-opacity="0.88"/>
<rect x="366.8" y="360.15" width="15.2" height="3.1" rx="1.55" fill="#000" fill-opacity="0.82"/>
<rect x="386.2" y="360.15" width="14.6" height="3.1" rx="1.55" fill="#000" fill-opacity="0.85"/>
<rect x="404.5" y="361.95" width="16.6" height="3.1" rx="1.55" fill="#000" fill-opacity="1"/>
<rect x="425.5" y="361.95" width="16.6" height="3.1" rx="1.55" fill="#000" fill-opacity="0.9"/>
<rect x="446.5" y="361.95" width="16" height="3.1" rx="1.55" fill="#000" fill-opacity="0.9"/>
<rect x="467" y="361.95" width="16.4" height="3.1" rx="1.55" fill="#000" fill-opacity="0.9"/>
<rect x="324.6" y="364.15" width="16.2" height="3.7" rx="1.85" fill="#000" fill-opacity="1"/>
<rect x="344.4" y="364.15" width="16.2" height="3.7" rx="1.85" fill="#000" fill-opacity="0.97"/>
<rect x="366.8" y="364.15" width="15.2" height="3.7" rx="1.85" fill="#000" fill-opacity="0.9"/>
<rect x="386.2" y="364.15" width="14.6" height="3.7" rx="1.85" fill="#000" fill-opacity="0.9"/>
<rect x="404.5" y="365.95" width="16.6" height="3.7" rx="1.85" fill="#000" fill-opacity="1"/>
<rect x="425.5" y="365.95" width="16.6" height="3.7" rx="1.85" fill="#000" fill-opacity="1"/>
<rect x="446.5" y="365.95" width="16" height="3.7" rx="1.85" fill="#000" fill-opacity="0.95"/>
<rect x="467" y="365.95" width="16.4" height="3.7" rx="1.85" fill="#000" fill-opacity="0.8"/>
<rect x="324.6" y="368.7" width="16.2" height="2.4" rx="1.2" fill="#000" fill-opacity="0.8"/>
<rect x="344.4" y="368.7" width="16.2" height="2.4" rx="1.2" fill="#000" fill-opacity="0.66"/>
<rect x="366.8" y="368.7" width="15.2" height="2.4" rx="1.2" fill="#000" fill-opacity="0.56"/>
<rect x="386.2" y="368.7" width="14.6" height="2.4" rx="1.2" fill="#000" fill-opacity="0.56"/>
<rect x="404.5" y="370.5" width="16.6" height="2.4" rx="1.2" fill="#000" fill-opacity="1"/>
<rect x="425.5" y="370.5" width="16.6" height="2.4" rx="1.2" fill="#000" fill-opacity="0.6"/>
<rect x="446.5" y="370.5" width="16" height="2.4" rx="1.2" fill="#000" fill-opacity="0.6"/>
<rect x="467" y="370.5" width="16.4" height="2.4" rx="1.2" fill="#000" fill-opacity="0.45"/>
<rect x="324.6" y="363" width="16.2" height="9" rx="2.2" fill="#000" fill-opacity="0.3"/>
<rect x="344.4" y="363" width="16.2" height="9" rx="2.2" fill="#000" fill-opacity="0.1"/>
<rect x="404.5" y="364.8" width="16.6" height="9" rx="2.2" fill="#000" fill-opacity="0.85"/>
<rect x="425.5" y="364.8" width="16.6" height="9" rx="2.2" fill="#000" fill-opacity="0.2"/>
<rect x="446.5" y="364.8" width="16" height="9" rx="2.2" fill="#000" fill-opacity="0.1"/>
<rect x="324.6" y="372.5" width="16.2" height="4" rx="2" fill="#000" fill-opacity="0.22"/>
<rect x="344.4" y="372.5" width="16.2" height="4" rx="2" fill="#000" fill-opacity="0.14"/>
<rect x="366.8" y="372.5" width="15.2" height="4" rx="2" fill="#000" fill-opacity="0.1"/>
<rect x="386.2" y="372.5" width="14.6" height="4" rx="2" fill="#000" fill-opacity="0.1"/>
<rect x="404.5" y="374.3" width="16.6" height="4" rx="2" fill="#000" fill-opacity="0.5"/>
<rect x="425.5" y="374.3" width="16.6" height="4" rx="2" fill="#000" fill-opacity="0.14"/>
<rect x="446.5" y="374.3" width="16" height="4" rx="2" fill="#000" fill-opacity="0.1"/>
<rect x="467" y="374.3" width="16.4" height="4" rx="2" fill="#000" fill-opacity="0.1"/>
<rect x="324.6" y="376.5" width="16.2" height="9.8" rx="2.2" fill="#000" fill-opacity="1"/>
<rect x="344.4" y="376.85" width="16.2" height="6.9" rx="2.2" fill="#000" fill-opacity="1"/>
<rect x="366.8" y="378" width="15.2" height="6" rx="2.2" fill="#000" fill-opacity="1"/>
<rect x="386.2" y="378.7" width="14.6" height="5.8" rx="2.2" fill="#000" fill-opacity="1"/>
<rect x="404.5" y="378.1" width="16.6" height="11.4" rx="2.2" fill="#000" fill-opacity="1"/>
<rect x="425.5" y="378.7" width="16.6" height="8.8" rx="2.2" fill="#000" fill-opacity="1"/>
<rect x="446.5" y="378.95" width="16" height="7.3" rx="2.2" fill="#000" fill-opacity="1"/>
<rect x="467" y="379.35" width="16.4" height="6.3" rx="2.2" fill="#000" fill-opacity="1"/>
<rect x="324.6" y="377.65" width="16.2" height="7.5" rx="2.2" fill="#000" fill-opacity="0.9"/>
<rect x="344.4" y="377.8" width="16.2" height="5" rx="2.2" fill="#000" fill-opacity="0.9"/>
<rect x="366.8" y="378.8" width="15.2" height="4.4" rx="2.2" fill="#000" fill-opacity="0.9"/>
<rect x="386.2" y="379.5" width="14.6" height="4.2" rx="2.1" fill="#000" fill-opacity="0.9"/>
<rect x="404.5" y="379.3" width="16.6" height="9" rx="2.2" fill="#000" fill-opacity="0.9"/>
<rect x="425.5" y="379.8" width="16.6" height="6.6" rx="2.2" fill="#000" fill-opacity="0.9"/>
<rect x="446.5" y="379.9" width="16" height="5.4" rx="2.2" fill="#000" fill-opacity="0.9"/>
<rect x="467" y="380.2" width="16.4" height="4.6" rx="2.2" fill="#000" fill-opacity="0.9"/>
<rect x="324.6" y="392.1" width="16.2" height="2.4" rx="1.2" fill="#000" fill-opacity="0.28"/>
<rect x="344.4" y="392.1" width="16.2" height="2.4" rx="1.2" fill="#000" fill-opacity="0.1"/>
<rect x="366.8" y="392.1" width="15.2" height="2.4" rx="1.2" fill="#000" fill-opacity="0.07"/>
<rect x="386.2" y="392.1" width="14.6" height="2.4" rx="1.2" fill="#000" fill-opacity="0.06"/>
<rect x="404.5" y="393.9" width="16.6" height="2.4" rx="1.2" fill="#000" fill-opacity="0.34"/>
<rect x="425.5" y="393.9" width="16.6" height="2.4" rx="1.2" fill="#000" fill-opacity="0.1"/>
<rect x="446.5" y="393.9" width="16" height="2.4" rx="1.2" fill="#000" fill-opacity="0.07"/>
<rect x="467" y="393.9" width="16.4" height="2.4" rx="1.2" fill="#000" fill-opacity="0.06"/>
<rect x="324.6" y="395.5" width="16.2" height="2.4" rx="1.2" fill="#000" fill-opacity="0.3"/>
<rect x="344.4" y="395.5" width="16.2" height="2.4" rx="1.2" fill="#000" fill-opacity="0.1"/>
<rect x="366.8" y="395.5" width="15.2" height="2.4" rx="1.2" fill="#000" fill-opacity="0.07"/>
<rect x="386.2" y="395.5" width="14.6" height="2.4" rx="1.2" fill="#000" fill-opacity="0.06"/>
<rect x="404.5" y="397.3" width="16.6" height="2.4" rx="1.2" fill="#000" fill-opacity="0.4"/>
<rect x="425.5" y="397.3" width="16.6" height="2.4" rx="1.2" fill="#000" fill-opacity="0.12"/>
<rect x="446.5" y="397.3" width="16" height="2.4" rx="1.2" fill="#000" fill-opacity="0.07"/>
<rect x="467" y="397.3" width="16.4" height="2.4" rx="1.2" fill="#000" fill-opacity="0.06"/>
<rect x="324.6" y="399.4" width="16.2" height="2.4" rx="1.2" fill="#000" fill-opacity="0.3"/>
<rect x="344.4" y="399.4" width="16.2" height="2.4" rx="1.2" fill="#000" fill-opacity="0.12"/>
<rect x="366.8" y="399.4" width="15.2" height="2.4" rx="1.2" fill="#000" fill-opacity="0.08"/>
<rect x="386.2" y="399.4" width="14.6" height="2.4" rx="1.2" fill="#000" fill-opacity="0.06"/>
<rect x="404.5" y="401.2" width="16.6" height="2.4" rx="1.2" fill="#000" fill-opacity="0.3"/>
<rect x="425.5" y="401.2" width="16.6" height="2.4" rx="1.2" fill="#000" fill-opacity="0.12"/>
<rect x="446.5" y="401.2" width="16" height="2.4" rx="1.2" fill="#000" fill-opacity="0.08"/>
<rect x="467" y="401.2" width="16.4" height="2.4" rx="1.2" fill="#000" fill-opacity="0.06"/>
<rect x="324.6" y="402.6" width="16.2" height="2.6" rx="1.3" fill="#000" fill-opacity="0.38"/>
<rect x="344.4" y="402.6" width="16.2" height="2.6" rx="1.3" fill="#000" fill-opacity="0.16"/>
<rect x="366.8" y="402.6" width="15.2" height="2.6" rx="1.3" fill="#000" fill-opacity="0.1"/>
<rect x="386.2" y="402.6" width="14.6" height="2.6" rx="1.3" fill="#000" fill-opacity="0.08"/>
<rect x="404.5" y="404.4" width="16.6" height="2.6" rx="1.3" fill="#000" fill-opacity="0.55"/>
<rect x="425.5" y="404.4" width="16.6" height="2.6" rx="1.3" fill="#000" fill-opacity="0.18"/>
<rect x="446.5" y="404.4" width="16" height="2.6" rx="1.3" fill="#000" fill-opacity="0.1"/>
<rect x="467" y="404.4" width="16.4" height="2.6" rx="1.3" fill="#000" fill-opacity="0.08"/>
<rect x="324.6" y="407.4" width="16.2" height="3.2" rx="1.6" fill="#000" fill-opacity="0.95"/>
<rect x="344.4" y="408" width="16.2" height="3.2" rx="1.6" fill="#000" fill-opacity="0.95"/>
<rect x="366.8" y="409.1" width="15.2" height="3.4" rx="1.7" fill="#000" fill-opacity="0.97"/>
<rect x="386.2" y="409.7" width="14.6" height="3.2" rx="1.6" fill="#000" fill-opacity="0.97"/>
<rect x="404.5" y="409.6" width="16.6" height="4.2" rx="2.1" fill="#000" fill-opacity="1"/>
<rect x="425.5" y="410.6" width="16.6" height="3.6" rx="1.8" fill="#000" fill-opacity="1"/>
<rect x="446.5" y="410.6" width="16" height="3.6" rx="1.8" fill="#000" fill-opacity="1"/>
<rect x="467" y="410.8" width="16.4" height="2.8" rx="1.4" fill="#000" fill-opacity="0.95"/>
<rect x="324.6" y="414.7" width="16.2" height="2.2" rx="1.1" fill="#000" fill-opacity="0.28"/>
<rect x="344.4" y="414.7" width="16.2" height="2.2" rx="1.1" fill="#000" fill-opacity="0.22"/>
<rect x="366.8" y="414.7" width="15.2" height="2.2" rx="1.1" fill="#000" fill-opacity="0.2"/>
<rect x="386.2" y="414.7" width="14.6" height="2.2" rx="1.1" fill="#000" fill-opacity="0.2"/>
<rect x="404.5" y="416.5" width="16.6" height="2.2" rx="1.1" fill="#000" fill-opacity="0.3"/>
<rect x="425.5" y="416.5" width="16.6" height="2.2" rx="1.1" fill="#000" fill-opacity="0.2"/>
<rect x="446.5" y="416.5" width="16" height="2.2" rx="1.1" fill="#000" fill-opacity="0.2"/>
<rect x="467" y="416.5" width="16.4" height="2.2" rx="1.1" fill="#000" fill-opacity="0.18"/>
<rect x="324.6" y="417.6" width="16.2" height="2" rx="1" fill="#000" fill-opacity="0.2"/>
<rect x="344.4" y="417.6" width="16.2" height="2" rx="1" fill="#000" fill-opacity="0.16"/>
<rect x="366.8" y="417.6" width="15.2" height="2" rx="1" fill="#000" fill-opacity="0.14"/>
<rect x="386.2" y="417.6" width="14.6" height="2" rx="1" fill="#000" fill-opacity="0.14"/>
<rect x="404.5" y="419.4" width="16.6" height="2" rx="1" fill="#000" fill-opacity="0.25"/>
<rect x="425.5" y="419.4" width="16.6" height="2" rx="1" fill="#000" fill-opacity="0.16"/>
<rect x="446.5" y="419.4" width="16" height="2" rx="1" fill="#000" fill-opacity="0.16"/>
<rect x="467" y="419.4" width="16.4" height="2" rx="1" fill="#000" fill-opacity="0.14"/>
<rect x="324.6" y="419.6" width="16.2" height="2.4" rx="1.2" fill="#000" fill-opacity="0.4"/>
<rect x="344.4" y="421.2" width="16.2" height="2.4" rx="1.2" fill="#000" fill-opacity="0.45"/>
<rect x="366.8" y="421.7" width="15.2" height="2.4" rx="1.2" fill="#000" fill-opacity="0.85"/>
<rect x="386.2" y="421.9" width="14.6" height="2.4" rx="1.2" fill="#000" fill-opacity="0.9"/>
<rect x="404.5" y="423.3" width="16.6" height="2.4" rx="1.2" fill="#000" fill-opacity="0.5"/>
<rect x="425.5" y="423.4" width="16.6" height="2.4" rx="1.2" fill="#000" fill-opacity="0.8"/>
<rect x="446.5" y="423.4" width="16" height="2.4" rx="1.2" fill="#000" fill-opacity="0.9"/>
<rect x="467" y="423.3" width="16.4" height="2.4" rx="1.2" fill="#000" fill-opacity="0.85"/>
<rect x="324.6" y="425.5" width="16.2" height="3" rx="1.5" fill="#000" fill-opacity="0.2"/>
<rect x="344.4" y="425.5" width="16.2" height="3" rx="1.5" fill="#000" fill-opacity="0.16"/>
<rect x="366.8" y="425.5" width="15.2" height="3" rx="1.5" fill="#000" fill-opacity="0.12"/>
<rect x="386.2" y="425.5" width="14.6" height="3" rx="1.5" fill="#000" fill-opacity="0.12"/>
<rect x="404.5" y="427.3" width="16.6" height="3" rx="1.5" fill="#000" fill-opacity="0.3"/>
<rect x="425.5" y="427.3" width="16.6" height="3" rx="1.5" fill="#000" fill-opacity="0.14"/>
<rect x="446.5" y="427.3" width="16" height="3" rx="1.5" fill="#000" fill-opacity="0.12"/>
<rect x="467" y="427.3" width="16.4" height="3" rx="1.5" fill="#000" fill-opacity="0.12"/>
<rect x="324.6" y="428" width="16.2" height="3" rx="1.5" fill="#000" fill-opacity="0.3"/>
<rect x="344.4" y="429" width="16.2" height="3" rx="1.5" fill="#000" fill-opacity="0.35"/>
<rect x="366.8" y="429.5" width="15.2" height="3" rx="1.5" fill="#000" fill-opacity="0.3"/>
<rect x="386.2" y="429.9" width="14.6" height="3" rx="1.5" fill="#000" fill-opacity="0.3"/>
<rect x="404.5" y="431.7" width="16.6" height="3" rx="1.5" fill="#000" fill-opacity="0.42"/>
<rect x="425.5" y="431.9" width="16.6" height="3" rx="1.5" fill="#000" fill-opacity="0.4"/>
<rect x="446.5" y="431.9" width="16" height="3" rx="1.5" fill="#000" fill-opacity="0.42"/>
<rect x="467" y="431.9" width="16.4" height="3" rx="1.5" fill="#000" fill-opacity="0.35"/>
<rect x="324.6" y="430.7" width="16.2" height="4.6" rx="2.2" fill="#000" fill-opacity="1"/>
<rect x="344.4" y="432.5" width="16.2" height="3.4" rx="1.7" fill="#000" fill-opacity="0.95"/>
<rect x="366.8" y="433.4" width="15.2" height="3.2" rx="1.6" fill="#000" fill-opacity="0.85"/>
<rect x="386.2" y="433.9" width="14.6" height="3" rx="1.5" fill="#000" fill-opacity="0.75"/>
<rect x="404.5" y="434.8" width="16.6" height="4.4" rx="2.2" fill="#000" fill-opacity="1"/>
<rect x="425.5" y="435.5" width="16.6" height="4" rx="2" fill="#000" fill-opacity="1"/>
<rect x="446.5" y="435.5" width="16" height="3.8" rx="1.9" fill="#000" fill-opacity="0.95"/>
<rect x="467" y="435.6" width="16.4" height="3.6" rx="1.8" fill="#000" fill-opacity="0.9"/>
</g></g>
<g clip-path="url(#clipE)"><g filter="url(#blurD2)">
<path d="M324.2 464C324.2 454 327.7 451.5 332.7 451.5C337.7 451.5 341.2 454 341.2 464" fill="none" stroke="#000" stroke-opacity="0.13" stroke-width="2.4"/>
<path d="M326.7 466C326.7 459 329.7 457 332.7 457C335.7 457 338.7 459 338.7 466" fill="none" stroke="#fff" stroke-opacity="0.12" stroke-width="2.5"/>
<path d="M344 464C344 454 347.5 451.5 352.5 451.5C357.5 451.5 361 454 361 464" fill="none" stroke="#000" stroke-opacity="0.1" stroke-width="2.4"/>
<path d="M346.5 466C346.5 459 349.5 457 352.5 457C355.5 457 358.5 459 358.5 466" fill="none" stroke="#fff" stroke-opacity="0.12" stroke-width="2.5"/>
<path d="M365.9 464C365.9 454 369.4 451.5 374.4 451.5C379.4 451.5 382.9 454 382.9 464" fill="none" stroke="#000" stroke-opacity="0.09" stroke-width="2.4"/>
<path d="M368.4 466C368.4 459 371.4 457 374.4 457C377.4 457 380.4 459 380.4 466" fill="none" stroke="#fff" stroke-opacity="0.12" stroke-width="2.5"/>
<path d="M385 464C385 454 388.5 451.5 393.5 451.5C398.5 451.5 402 454 402 464" fill="none" stroke="#000" stroke-opacity="0.09" stroke-width="2.4"/>
<path d="M387.5 466C387.5 459 390.5 457 393.5 457C396.5 457 399.5 459 399.5 466" fill="none" stroke="#fff" stroke-opacity="0.12" stroke-width="2.5"/>
<path d="M404.3 464C404.3 454 407.8 451.5 412.8 451.5C417.8 451.5 421.3 454 421.3 464" fill="none" stroke="#000" stroke-opacity="0.24" stroke-width="2.4"/>
<path d="M406.8 466C406.8 459 409.8 457 412.8 457C415.8 457 418.8 459 418.8 466" fill="none" stroke="#fff" stroke-opacity="0.12" stroke-width="2.5"/>
<path d="M425.3 464C425.3 454 428.8 451.5 433.8 451.5C438.8 451.5 442.3 454 442.3 464" fill="none" stroke="#000" stroke-opacity="0.15" stroke-width="2.4"/>
<path d="M427.8 466C427.8 459 430.8 457 433.8 457C436.8 457 439.8 459 439.8 466" fill="none" stroke="#fff" stroke-opacity="0.12" stroke-width="2.5"/>
<path d="M446 464C446 454 449.5 451.5 454.5 451.5C459.5 451.5 463 454 463 464" fill="none" stroke="#000" stroke-opacity="0.13" stroke-width="2.4"/>
<path d="M448.5 466C448.5 459 451.5 457 454.5 457C457.5 457 460.5 459 460.5 466" fill="none" stroke="#fff" stroke-opacity="0.12" stroke-width="2.5"/>
<path d="M466.7 464C466.7 454 470.2 451.5 475.2 451.5C480.2 451.5 483.7 454 483.7 464" fill="none" stroke="#000" stroke-opacity="0.12" stroke-width="2.4"/>
<path d="M469.2 466C469.2 459 472.2 457 475.2 457C478.2 457 481.2 459 481.2 466" fill="none" stroke="#fff" stroke-opacity="0.12" stroke-width="2.5"/>
</g></g>
<path d="M295.2 332.2L301.3 341H315.3M294 343L301.3 350.8H315.3M292.8 348.9L301.3 355.6H315.3M292.8 355.9L301.3 362H315.3M301 366.5H315.3M292.3 374.6L301.3 370.5H315.3M292.3 385.8L299.9 379.7H315.3M293.3 391L299.1 383.6H315.3M293.7 407.4L300.6 400.3H485.2M293.7 415L300.6 407.5H484.6M293.7 429.3L300.6 421.9H487.5M292.8 441L301.3 436.4H488.7" fill="none" stroke="#191919" stroke-width="1.1"/>
<text x="291.5" y="325.3" font-size="11.65" text-anchor="end">ND5</text>
<text x="291.5" y="337.7" font-size="11.65" text-anchor="end">COX1</text>
<text x="291.5" y="347.9" font-size="11.65" text-anchor="end">ND4</text>
<text x="291.5" y="358.6" font-size="11.65" text-anchor="end">CYTB</text>
<text x="291.5" y="367.7" font-size="11.65" text-anchor="end">ND2</text>
<text x="291.5" y="377.8" font-size="11.65" text-anchor="end">ND1</text>
<text x="291.5" y="388.5" font-size="11.65" text-anchor="end">COX2/COX3</text>
<text x="291.5" y="399.7" font-size="11.65" text-anchor="end">ATP6</text>
<text x="291.5" y="411.8" font-size="11.65" text-anchor="end">ND6</text>
<text x="291.5" y="423" font-size="11.65" text-anchor="end">ND3</text>
<text x="290.5" y="434" font-size="11.65" text-anchor="end">ND4L</text>
<text x="291.5" y="445" font-size="11.65" text-anchor="end">ATP8</text>
<text x="495.7" y="332.6" font-size="5.75" letter-spacing="-0.05" stroke="#191919" stroke-width="0.18">50 kDa</text>
<text x="495.7" y="352.4" font-size="5.75" letter-spacing="-0.05" stroke="#191919" stroke-width="0.18">37 kDa</text>
<text x="495.7" y="374.9" font-size="5.75" letter-spacing="-0.05" stroke="#191919" stroke-width="0.18">25 kDa</text>
<text x="495.7" y="385.7" font-size="5.75" letter-spacing="-0.05" stroke="#191919" stroke-width="0.18">20 kDa</text>
<text x="495.7" y="407.9" font-size="5.75" letter-spacing="-0.05" stroke="#191919" stroke-width="0.18">15 kDa</text>
<text x="495.7" y="435.3" font-size="5.75" letter-spacing="-0.05" stroke="#191919" stroke-width="0.18">10 kDa</text>
<rect x="314.5" y="485.5" width="177.5" height="19.5" fill="#dbdbdb"/>
<g clip-path="url(#clipE2)"><g filter="url(#blurD)">
<rect x="325.5" y="486" width="18.3" height="19" fill="#000" fill-opacity="0.07"/>
<rect x="327.5" y="492" width="14.3" height="5" rx="2" fill="#000" fill-opacity="0.62"/>
<rect x="344.2" y="486" width="17.3" height="19" fill="#000" fill-opacity="0.07"/>
<rect x="346.2" y="492" width="13.3" height="5" rx="2" fill="#000" fill-opacity="0.58"/>
<rect x="367.5" y="486" width="17" height="19" fill="#000" fill-opacity="0.07"/>
<rect x="369.5" y="492" width="13" height="5" rx="2" fill="#000" fill-opacity="0.48"/>
<rect x="386.8" y="486" width="16.5" height="19" fill="#000" fill-opacity="0.07"/>
<rect x="388.8" y="492" width="12.5" height="5" rx="2" fill="#000" fill-opacity="0.55"/>
</g><g filter="url(#blurE3)">
<rect x="415" y="494" width="15" height="10" rx="2" fill="#000" fill-opacity="0.16"/>
<rect x="415" y="484" width="15" height="24" fill="#000" fill-opacity="0.08"/>
<rect x="434.5" y="494" width="15" height="10" rx="2" fill="#000" fill-opacity="0.1"/>
<rect x="434.5" y="484" width="15" height="24" fill="#000" fill-opacity="0.05"/>
<rect x="453.8" y="494" width="15" height="10" rx="2" fill="#000" fill-opacity="0.09"/>
<rect x="453.8" y="484" width="15" height="24" fill="#000" fill-opacity="0.04"/>
<rect x="473.8" y="494" width="15" height="10" rx="2" fill="#000" fill-opacity="0.07"/>
<rect x="473.8" y="484" width="15" height="24" fill="#000" fill-opacity="0.04"/>
<rect x="326.5" y="488.5" width="16.3" height="12" rx="3" fill="#000" fill-opacity="0.2"/>
<rect x="345.2" y="488.5" width="15.3" height="12" rx="3" fill="#000" fill-opacity="0.2"/>
<rect x="368.5" y="488.5" width="15" height="12" rx="3" fill="#000" fill-opacity="0.2"/>
<rect x="387.8" y="488.5" width="14.5" height="12" rx="3" fill="#000" fill-opacity="0.2"/>
</g></g>
<text x="228.8" y="499.3" font-size="11.7">COX1 (short)</text>
<line x1="306.3" y1="495.6" x2="313.8" y2="495.6" stroke="#191919"/>
<line x1="492.6" y1="495.6" x2="501.8" y2="495.6" stroke="#191919"/>
<text x="337" y="516.3" font-size="11.5" text-anchor="middle">1</text>
<text x="356.8" y="516.3" font-size="11.5" text-anchor="middle">2</text>
<text x="380" y="516.3" font-size="11.5" text-anchor="middle">3</text>
<text x="399.3" y="516.3" font-size="11.5" text-anchor="middle">4</text>
<text x="422.5" y="516.3" font-size="11.5" text-anchor="middle">5</text>
<text x="442" y="516.3" font-size="11.5" text-anchor="middle">6</text>
<text x="461.3" y="516.3" font-size="11.5" text-anchor="middle">7</text>
<text x="481.3" y="516.3" font-size="11.5" text-anchor="middle">8</text>
<text x="535.4" y="398.6" font-size="11.75" text-anchor="middle" transform="rotate(-90 535.4 398.6)">Relative Amounts of COX1</text>
<text x="549.9" y="398.8" font-size="11.6" text-anchor="middle" transform="rotate(-90 549.9 398.8)">(% of max)</text>
<path d="M577.25 352.75V461.25" fill="none" stroke="#191919" stroke-width="1.5"/>
<path d="M571.5 461.25H685" fill="none" stroke="#191919" stroke-width="1.5"/>
<line x1="571.5" y1="461.25" x2="577.25" y2="461.25" stroke-width="1.3" stroke="#191919"/>
<text x="570" y="465.35" font-size="11.5" text-anchor="end">0</text>
<line x1="571.5" y1="407" x2="577.25" y2="407" stroke-width="1.3" stroke="#191919"/>
<text x="570" y="411.1" font-size="11.5" text-anchor="end">50</text>
<line x1="571.5" y1="352.75" x2="577.25" y2="352.75" stroke-width="1.3" stroke="#191919"/>
<text x="570" y="356.85" font-size="11.5" text-anchor="end">100</text>
<line x1="577.25" y1="461.25" x2="577.25" y2="466.4" stroke-width="1.3" stroke="#191919"/>
<text x="577.25" y="480.5" font-size="11.5" text-anchor="middle">0</text>
<line x1="610.92" y1="461.25" x2="610.92" y2="466.4" stroke-width="1.3" stroke="#191919"/>
<text x="610.92" y="480.5" font-size="11.5" text-anchor="middle">20</text>
<line x1="644.59" y1="461.25" x2="644.59" y2="466.4" stroke-width="1.3" stroke="#191919"/>
<text x="644.59" y="480.5" font-size="11.5" text-anchor="middle">40</text>
<line x1="678.26" y1="461.25" x2="678.26" y2="466.4" stroke-width="1.3" stroke="#191919"/>
<text x="678.26" y="480.5" font-size="11.5" text-anchor="middle">60</text>
<text x="630.6" y="495" font-size="11.5" text-anchor="middle">Time (min)</text>
<path d="M610.92 363.2V387.4M607.67 363.2H614.17M607.67 387.4H614.17" fill="none" stroke="#ff40ff" stroke-width="1.1"/>
<path d="M678.26 377V403.2M675.01 377H681.51M675.01 403.2H681.51" fill="none" stroke="#ff40ff" stroke-width="1.1"/>
<path d="M577.25 353.1L610.92 375.5L678.26 390" fill="none" stroke="#ff40ff" stroke-width="1.2"/>
<rect x="574.05" y="349.9" width="6.4" height="6.4" fill="#ff40ff"/>
<rect x="607.72" y="372.3" width="6.4" height="6.4" fill="#ff40ff"/>
<rect x="675.06" y="386.8" width="6.4" height="6.4" fill="#ff40ff"/>
<path d="M610.92 347.5V363M607.67 347.5H614.17M607.67 363H614.17" fill="none" stroke="#6cbf45" stroke-width="1.1"/>
<path d="M678.26 356.2V388M675.01 356.2H681.51M675.01 388H681.51" fill="none" stroke="#6cbf45" stroke-width="1.1"/>
<path d="M577.25 353.1L610.92 355L678.26 372" fill="none" stroke="#6cbf45" stroke-width="1.2"/>
<circle cx="577.25" cy="353.1" r="3.3" fill="#6cbf45"/>
<circle cx="610.92" cy="355" r="3.3" fill="#6cbf45"/>
<circle cx="678.26" cy="372" r="3.3" fill="#6cbf45"/>
<line x1="587.3" y1="305" x2="616.5" y2="305" stroke-width="1.2" stroke="#6cbf45"/>
<circle cx="602.7" cy="305" r="4.9" fill="#6cbf45"/>
<text x="626.5" y="309.5" font-size="11">WT</text>
<line x1="587.3" y1="325.8" x2="616.5" y2="325.8" stroke-width="1.2" stroke="#ff40ff"/>
<rect x="597.6" y="321.4" width="8.8" height="8.8" fill="#ff40ff"/>
<text x="626.5" y="330" font-size="11.5">COX14<tspan font-size="7" dy="-4.3" dx="0.3">M19I</tspan></text>
</g>
<g id="panel-f">
<text x="0" y="548.3" font-size="13.5" font-weight="bold">f</text>
<line x1="158.7" y1="573.8" x2="158.7" y2="879.9" stroke-width="0.8" stroke="#9a9a9a" stroke-dasharray="3.6 3"/>
<line x1="184.2" y1="573.8" x2="184.2" y2="879.9" stroke-width="0.8" stroke="#9a9a9a" stroke-dasharray="3.6 3"/>
<line x1="52.7" y1="698.8" x2="225.2" y2="698.8" stroke-width="0.8" stroke="#9a9a9a" stroke-dasharray="3.6 3"/>
<g fill="#dcdcdc" fill-opacity="0.6" stroke="#2a2a2a" stroke-width="0.65">
<circle cx="125.1" cy="749.8" r="1.45"/>
<circle cx="189.5" cy="749.8" r="1.45"/>
<circle cx="187.3" cy="758.4" r="1.45"/>
<circle cx="146.6" cy="771.3" r="1.45"/>
<circle cx="196.5" cy="773.3" r="1.45"/>
<circle cx="187.9" cy="777.8" r="1.45"/>
<circle cx="119.8" cy="783.9" r="1.45"/>
<circle cx="188.3" cy="787.4" r="1.45"/>
<circle cx="185.8" cy="794.8" r="1.45"/>
<circle cx="183.4" cy="799.3" r="1.45"/>
<circle cx="185.4" cy="806.4" r="1.45"/>
<circle cx="188.3" cy="808.5" r="1.45"/>
<circle cx="182.8" cy="813.2" r="1.45"/>
<circle cx="185.4" cy="814" r="1.45"/>
<circle cx="153.1" cy="817.3" r="1.45"/>
<circle cx="150.7" cy="818.9" r="1.45"/>
<circle cx="160.9" cy="818.3" r="1.45"/>
<circle cx="185.4" cy="818.3" r="1.45"/>
<circle cx="181.8" cy="820.3" r="1.45"/>
<circle cx="182.8" cy="821.3" r="1.45"/>
<circle cx="128.2" cy="821.1" r="1.45"/>
<circle cx="160.9" cy="825.2" r="1.45"/>
<circle cx="187.9" cy="825.4" r="1.45"/>
<circle cx="184.8" cy="825.8" r="1.45"/>
<circle cx="183.8" cy="828.3" r="1.45"/>
<circle cx="181.1" cy="829.9" r="1.45"/>
<circle cx="161.7" cy="834.4" r="1.45"/>
<circle cx="159.3" cy="836" r="1.45"/>
<circle cx="148" cy="837.7" r="1.45"/>
<circle cx="146.6" cy="839.1" r="1.45"/>
<circle cx="154.2" cy="839.5" r="1.45"/>
<circle cx="216.9" cy="836.5" r="1.45"/>
<circle cx="211.4" cy="842.2" r="1.45"/>
<circle cx="193.4" cy="839.7" r="1.45"/>
<circle cx="118.8" cy="841.4" r="1.45"/>
<circle cx="128" cy="841.8" r="1.45"/>
<circle cx="143.9" cy="842.2" r="1.45"/>
<circle cx="163.4" cy="861" r="1.45"/>
<circle cx="181.8" cy="857.1" r="1.45"/>
<circle cx="168.85" cy="855.1" r="1.45"/>
<circle cx="174.42" cy="845.55" r="1.45"/>
<circle cx="168.51" cy="861.3" r="1.45"/>
<circle cx="171.53" cy="860.37" r="1.45"/>
<circle cx="170.15" cy="858.18" r="1.45"/>
<circle cx="168.19" cy="854.61" r="1.45"/>
<circle cx="182.6" cy="832.89" r="1.45"/>
<circle cx="165.58" cy="846.16" r="1.45"/>
<circle cx="170.26" cy="864.85" r="1.45"/>
<circle cx="163.4" cy="845.65" r="1.45"/>
<circle cx="170.38" cy="862.81" r="1.45"/>
<circle cx="165.79" cy="845.19" r="1.45"/>
<circle cx="172.8" cy="852.47" r="1.45"/>
<circle cx="182.31" cy="835.66" r="1.45"/>
<circle cx="179.06" cy="830.23" r="1.45"/>
<circle cx="178.47" cy="841.34" r="1.45"/>
<circle cx="179.78" cy="839.22" r="1.45"/>
<circle cx="176.97" cy="848.14" r="1.45"/>
<circle cx="180.98" cy="840.89" r="1.45"/>
<circle cx="180.21" cy="836.1" r="1.45"/>
<circle cx="171.53" cy="863.2" r="1.45"/>
<circle cx="160.95" cy="841.19" r="1.45"/>
<circle cx="170.31" cy="855.6" r="1.45"/>
<circle cx="165.66" cy="843.31" r="1.45"/>
<circle cx="168.59" cy="847.44" r="1.45"/>
<circle cx="167.94" cy="849.94" r="1.45"/>
<circle cx="167.95" cy="854.38" r="1.45"/>
<circle cx="169.9" cy="862.23" r="1.45"/>
<circle cx="165.9" cy="847.53" r="1.45"/>
<circle cx="174.57" cy="854.9" r="1.45"/>
<circle cx="174.69" cy="850.44" r="1.45"/>
<circle cx="184.75" cy="833.52" r="1.45"/>
<circle cx="171.06" cy="858.31" r="1.45"/>
<circle cx="176.32" cy="838.77" r="1.45"/>
<circle cx="175.5" cy="842.69" r="1.45"/>
<circle cx="161.03" cy="836.84" r="1.45"/>
<circle cx="174.75" cy="843.42" r="1.45"/>
<circle cx="161.84" cy="843.55" r="1.45"/>
<circle cx="177.56" cy="841.52" r="1.45"/>
<circle cx="182.3" cy="835.28" r="1.45"/>
<circle cx="161.49" cy="837.94" r="1.45"/>
<circle cx="167.6" cy="853.29" r="1.45"/>
<circle cx="160.79" cy="836.98" r="1.45"/>
<circle cx="178.43" cy="841.48" r="1.45"/>
<circle cx="174.58" cy="850.87" r="1.45"/>
<circle cx="171.79" cy="863.18" r="1.45"/>
<circle cx="166.72" cy="846.17" r="1.45"/>
<circle cx="180.39" cy="840.87" r="1.45"/>
<circle cx="163.95" cy="842.73" r="1.45"/>
<circle cx="173.28" cy="855.34" r="1.45"/>
<circle cx="173.63" cy="850.03" r="1.45"/>
<circle cx="176.59" cy="846.54" r="1.45"/>
<circle cx="168.09" cy="852.49" r="1.45"/>
<circle cx="167.06" cy="845.59" r="1.45"/>
<circle cx="182.57" cy="831.54" r="1.45"/>
<circle cx="161.45" cy="840.89" r="1.45"/>
<circle cx="165.03" cy="843.14" r="1.45"/>
<circle cx="181.89" cy="835.99" r="1.45"/>
<circle cx="177.63" cy="836.72" r="1.45"/>
<circle cx="181.11" cy="833.05" r="1.45"/>
<circle cx="170.33" cy="863.21" r="1.45"/>
<circle cx="182.52" cy="837.32" r="1.45"/>
<circle cx="171.38" cy="865.06" r="1.45"/>
<circle cx="176.93" cy="842.4" r="1.45"/>
<circle cx="172.27" cy="853.01" r="1.45"/>
<circle cx="169.05" cy="850.04" r="1.45"/>
<circle cx="175.94" cy="846.42" r="1.45"/>
<circle cx="167.75" cy="845.62" r="1.45"/>
<circle cx="166.61" cy="848.55" r="1.45"/>
<circle cx="172.39" cy="856.54" r="1.45"/>
<circle cx="177.35" cy="843.74" r="1.45"/>
<circle cx="175.79" cy="845.36" r="1.45"/>
<circle cx="168.52" cy="856.18" r="1.45"/>
<circle cx="177.95" cy="841.74" r="1.45"/>
<circle cx="174.88" cy="842.42" r="1.45"/>
<circle cx="178.42" cy="839.65" r="1.45"/>
<circle cx="169.6" cy="857.32" r="1.45"/>
<circle cx="169.35" cy="857.77" r="1.45"/>
<circle cx="182.88" cy="833.6" r="1.45"/>
<circle cx="166.8" cy="848.39" r="1.45"/>
<circle cx="166.31" cy="845.7" r="1.45"/>
<circle cx="174.29" cy="850.7" r="1.45"/>
<circle cx="166.6" cy="846.22" r="1.45"/>
<circle cx="172.05" cy="859.3" r="1.45"/>
<circle cx="179.77" cy="839.25" r="1.45"/>
<circle cx="169.57" cy="855.71" r="1.45"/>
<circle cx="165.81" cy="841.86" r="1.45"/>
<circle cx="179.53" cy="837.29" r="1.45"/>
<circle cx="167.42" cy="851.05" r="1.45"/>
<circle cx="174.77" cy="845.21" r="1.45"/>
<circle cx="161.61" cy="839.56" r="1.45"/>
<circle cx="166.61" cy="847.68" r="1.45"/>
<circle cx="171.67" cy="851.11" r="1.45"/>
<circle cx="169.61" cy="858.68" r="1.45"/>
<circle cx="176.84" cy="843.79" r="1.45"/>
<circle cx="176.36" cy="845.96" r="1.45"/>
<circle cx="168.8" cy="851.97" r="1.45"/>
<circle cx="174.54" cy="849.81" r="1.45"/>
<circle cx="173.26" cy="856.91" r="1.45"/>
<circle cx="171.05" cy="856.1" r="1.45"/>
<circle cx="184.06" cy="838.03" r="1.45"/>
<circle cx="177.54" cy="844.17" r="1.45"/>
<circle cx="179.59" cy="839.43" r="1.45"/>
<circle cx="177.93" cy="841.13" r="1.45"/>
<circle cx="173.41" cy="849.97" r="1.45"/>
<circle cx="175.24" cy="849.64" r="1.45"/>
<circle cx="182.83" cy="831.21" r="1.45"/>
<circle cx="175.74" cy="847.81" r="1.45"/>
<circle cx="163.09" cy="839.93" r="1.45"/>
<circle cx="177.77" cy="842.58" r="1.45"/>
<circle cx="176.84" cy="842.57" r="1.45"/>
<circle cx="173.25" cy="853.26" r="1.45"/>
<circle cx="174.69" cy="844.91" r="1.45"/>
<circle cx="163.32" cy="843.69" r="1.45"/>
<circle cx="179.66" cy="839" r="1.45"/>
<circle cx="175.14" cy="845.88" r="1.45"/>
<circle cx="176.04" cy="842.97" r="1.45"/>
<circle cx="168.75" cy="851.96" r="1.45"/>
<circle cx="178.32" cy="840.06" r="1.45"/>
<circle cx="173.39" cy="854.22" r="1.45"/>
<circle cx="159.65" cy="841.59" r="1.45"/>
<circle cx="168.61" cy="855.27" r="1.45"/>
<circle cx="176.78" cy="843.8" r="1.45"/>
<circle cx="169.87" cy="856.87" r="1.45"/>
<circle cx="170.66" cy="862.66" r="1.45"/>
<circle cx="169.17" cy="855.78" r="1.45"/>
<circle cx="171.55" cy="862.54" r="1.45"/>
<circle cx="180.5" cy="838.34" r="1.45"/>
<circle cx="179.09" cy="839.14" r="1.45"/>
<circle cx="160.45" cy="840.46" r="1.45"/>
<circle cx="162.59" cy="840.69" r="1.45"/>
<circle cx="175.73" cy="846.08" r="1.45"/>
<circle cx="169.09" cy="856.82" r="1.45"/>
<circle cx="168.03" cy="849.75" r="1.45"/>
<circle cx="169.05" cy="859.78" r="1.45"/>
<circle cx="167.62" cy="855.83" r="1.45"/>
<circle cx="163.44" cy="843.92" r="1.45"/>
<circle cx="159.62" cy="834.34" r="1.45"/>
<circle cx="170.32" cy="858.75" r="1.45"/>
<circle cx="183.37" cy="830.65" r="1.45"/>
<circle cx="177.55" cy="846.36" r="1.45"/>
<circle cx="173.02" cy="854.65" r="1.45"/>
<circle cx="180.96" cy="833.63" r="1.45"/>
<circle cx="180.68" cy="835.15" r="1.45"/>
<circle cx="183.06" cy="830.87" r="1.45"/>
<circle cx="179.72" cy="841.53" r="1.45"/>
<circle cx="170.04" cy="862.34" r="1.45"/>
<circle cx="179.63" cy="839.38" r="1.45"/>
<circle cx="165.43" cy="843.02" r="1.45"/>
<circle cx="162.29" cy="839.66" r="1.45"/>
<circle cx="170.38" cy="859.8" r="1.45"/>
<circle cx="168.08" cy="851.67" r="1.45"/>
<circle cx="174.1" cy="856.19" r="1.45"/>
<circle cx="173.14" cy="856.5" r="1.45"/>
<circle cx="172.79" cy="854.43" r="1.45"/>
<circle cx="164.72" cy="848.87" r="1.45"/>
<circle cx="166.56" cy="843.17" r="1.45"/>
<circle cx="175.76" cy="846.08" r="1.45"/>
<circle cx="170.54" cy="862.91" r="1.45"/>
<circle cx="166.91" cy="849.55" r="1.45"/>
<circle cx="181.95" cy="829.87" r="1.45"/>
<circle cx="165.42" cy="848.82" r="1.45"/>
<circle cx="177.51" cy="840.79" r="1.45"/>
<circle cx="169.94" cy="860.79" r="1.45"/>
<circle cx="175.17" cy="848.09" r="1.45"/>
<circle cx="164.8" cy="848.15" r="1.45"/>
<circle cx="172.19" cy="857.55" r="1.45"/>
<circle cx="172.33" cy="855.34" r="1.45"/>
<circle cx="182.59" cy="834.38" r="1.45"/>
<circle cx="176.17" cy="847.88" r="1.45"/>
<circle cx="169.44" cy="855.68" r="1.45"/>
<circle cx="168.68" cy="853.28" r="1.45"/>
<circle cx="167.16" cy="847.85" r="1.45"/>
<circle cx="165.74" cy="847.72" r="1.45"/>
<circle cx="173.86" cy="854.11" r="1.45"/>
<circle cx="166.27" cy="850.32" r="1.45"/>
<circle cx="161.39" cy="836.36" r="1.45"/>
<circle cx="159.29" cy="841.67" r="1.45"/>
<circle cx="173.27" cy="850.3" r="1.45"/>
<circle cx="177.09" cy="840.32" r="1.45"/>
<circle cx="174.2" cy="849.8" r="1.45"/>
<circle cx="168.3" cy="850.69" r="1.45"/>
<circle cx="164.35" cy="845.14" r="1.45"/>
<circle cx="173.31" cy="853.37" r="1.45"/>
<circle cx="164.9" cy="842.02" r="1.45"/>
<circle cx="172.46" cy="848.51" r="1.45"/>
<circle cx="170.56" cy="863.27" r="1.45"/>
<circle cx="174.31" cy="847.41" r="1.45"/>
<circle cx="171.8" cy="862.14" r="1.45"/>
<circle cx="172.9" cy="861.6" r="1.45"/>
<circle cx="177.86" cy="842.05" r="1.45"/>
<circle cx="162.37" cy="841.75" r="1.45"/>
<circle cx="176.37" cy="842.6" r="1.45"/>
<circle cx="166.29" cy="842.56" r="1.45"/>
<circle cx="161.66" cy="836.85" r="1.45"/>
<circle cx="172.08" cy="852.04" r="1.45"/>
<circle cx="168.38" cy="852.8" r="1.45"/>
<circle cx="170.75" cy="855.79" r="1.45"/>
<circle cx="163.95" cy="839.3" r="1.45"/>
<circle cx="170.8" cy="860.31" r="1.45"/>
<circle cx="164.15" cy="844.55" r="1.45"/>
<circle cx="162.44" cy="836.91" r="1.45"/>
<circle cx="178.08" cy="838.05" r="1.45"/>
<circle cx="177.31" cy="844.37" r="1.45"/>
<circle cx="172.17" cy="858.94" r="1.45"/>
<circle cx="179.68" cy="840.2" r="1.45"/>
<circle cx="183.21" cy="835.23" r="1.45"/>
<circle cx="170.14" cy="860.89" r="1.45"/>
<circle cx="177.27" cy="848.83" r="1.45"/>
<circle cx="170.5" cy="860.36" r="1.45"/>
<circle cx="179.21" cy="842.99" r="1.45"/>
<circle cx="174.35" cy="847.64" r="1.45"/>
<circle cx="172.88" cy="856.3" r="1.45"/>
<circle cx="174.7" cy="848.3" r="1.45"/>
<circle cx="175.78" cy="846.05" r="1.45"/>
<circle cx="177.44" cy="844.78" r="1.45"/>
<circle cx="179.36" cy="839.18" r="1.45"/>
<circle cx="172.28" cy="852.76" r="1.45"/>
<circle cx="171.8" cy="861.46" r="1.45"/>
<circle cx="183.18" cy="834.73" r="1.45"/>
<circle cx="162.9" cy="841.77" r="1.45"/>
<circle cx="171.11" cy="857.4" r="1.45"/>
<circle cx="177.2" cy="847.86" r="1.45"/>
<circle cx="164.17" cy="845.12" r="1.45"/>
<circle cx="181.49" cy="832.87" r="1.45"/>
<circle cx="168.06" cy="848.06" r="1.45"/>
<circle cx="166.8" cy="849.38" r="1.45"/>
<circle cx="175.96" cy="848.72" r="1.45"/>
<circle cx="177.39" cy="844.77" r="1.45"/>
<circle cx="173.07" cy="855.12" r="1.45"/>
<circle cx="166.43" cy="849.73" r="1.45"/>
<circle cx="168.23" cy="853.66" r="1.45"/>
<circle cx="176.64" cy="842.9" r="1.45"/>
<circle cx="170.96" cy="858.7" r="1.45"/>
<circle cx="167.85" cy="847.11" r="1.45"/>
<circle cx="173.24" cy="853.11" r="1.45"/>
<circle cx="169.31" cy="855.25" r="1.45"/>
<circle cx="173.55" cy="856.06" r="1.45"/>
<circle cx="177.46" cy="837.42" r="1.45"/>
<circle cx="176.51" cy="842.64" r="1.45"/>
<circle cx="172.06" cy="863.67" r="1.45"/>
<circle cx="170.8" cy="859.6" r="1.45"/>
<circle cx="173.3" cy="849.07" r="1.45"/>
<circle cx="174.27" cy="848.49" r="1.45"/>
<circle cx="161.35" cy="843.67" r="1.45"/>
<circle cx="173.79" cy="849.18" r="1.45"/>
<circle cx="172.28" cy="854.97" r="1.45"/>
<circle cx="174.08" cy="851.86" r="1.45"/>
<circle cx="182.16" cy="836.83" r="1.45"/>
<circle cx="167.55" cy="853.29" r="1.45"/>
<circle cx="180.82" cy="837.83" r="1.45"/>
<circle cx="163.01" cy="843.84" r="1.45"/>
<circle cx="173.68" cy="851.44" r="1.45"/>
<circle cx="170.96" cy="859.82" r="1.45"/>
<circle cx="173" cy="857.39" r="1.45"/>
<circle cx="159.71" cy="840.7" r="1.45"/>
<circle cx="170.89" cy="864.73" r="1.45"/>
<circle cx="178.09" cy="839.61" r="1.45"/>
<circle cx="176.77" cy="847.62" r="1.45"/>
<circle cx="176.79" cy="849.3" r="1.45"/>
<circle cx="178.19" cy="841.29" r="1.45"/>
<circle cx="159.19" cy="841.76" r="1.45"/>
<circle cx="175.4" cy="844.67" r="1.45"/>
<circle cx="176.43" cy="845.8" r="1.45"/>
<circle cx="176.57" cy="845.12" r="1.45"/>
<circle cx="174.21" cy="847.24" r="1.45"/>
<circle cx="167.14" cy="848.84" r="1.45"/>
<circle cx="157.69" cy="841.28" r="1.45"/>
<circle cx="173.87" cy="855.4" r="1.45"/>
<circle cx="172.54" cy="853.29" r="1.45"/>
<circle cx="177" cy="838.9" r="1.45"/>
<circle cx="162.93" cy="845.13" r="1.45"/>
<circle cx="173.24" cy="856.01" r="1.45"/>
<circle cx="165.21" cy="839.48" r="1.45"/>
<circle cx="163.54" cy="845.17" r="1.45"/>
<circle cx="179" cy="836.63" r="1.45"/>
<circle cx="172.22" cy="860.34" r="1.45"/>
<circle cx="173.09" cy="851.54" r="1.45"/>
<circle cx="174.34" cy="855.49" r="1.45"/>
<circle cx="169.89" cy="858.79" r="1.45"/>
<circle cx="176.97" cy="840.14" r="1.45"/>
<circle cx="178.92" cy="834.13" r="1.45"/>
<circle cx="172.64" cy="854.04" r="1.45"/>
<circle cx="166.45" cy="848.94" r="1.45"/>
<circle cx="176.6" cy="840.73" r="1.45"/>
<circle cx="165.11" cy="844.72" r="1.45"/>
<circle cx="179.23" cy="835.37" r="1.45"/>
<circle cx="172.4" cy="857.09" r="1.45"/>
<circle cx="174.37" cy="852.11" r="1.45"/>
<circle cx="170.46" cy="863.97" r="1.45"/>
<circle cx="162.08" cy="841.62" r="1.45"/>
<circle cx="167.29" cy="851.36" r="1.45"/>
<circle cx="176.68" cy="846.99" r="1.45"/>
<circle cx="165.68" cy="849.02" r="1.45"/>
<circle cx="170.32" cy="858.99" r="1.45"/>
<circle cx="173.06" cy="855.58" r="1.45"/>
<circle cx="172.29" cy="852.57" r="1.45"/>
<circle cx="180.37" cy="833.21" r="1.45"/>
<circle cx="169.03" cy="857.48" r="1.45"/>
<circle cx="171.31" cy="861.19" r="1.45"/>
<circle cx="179.38" cy="841.81" r="1.45"/>
<circle cx="167.2" cy="853.02" r="1.45"/>
<circle cx="161.26" cy="839.51" r="1.45"/>
<circle cx="169.48" cy="857.25" r="1.45"/>
<circle cx="172.77" cy="859.06" r="1.45"/>
<circle cx="163.15" cy="840.57" r="1.45"/>
<circle cx="176.25" cy="842.16" r="1.45"/>
<circle cx="168.84" cy="850.34" r="1.45"/>
<circle cx="169.06" cy="853.56" r="1.45"/>
<circle cx="177.88" cy="835.14" r="1.45"/>
<circle cx="170.51" cy="860.23" r="1.45"/>
<circle cx="165.65" cy="847.79" r="1.45"/>
<circle cx="180.79" cy="836.02" r="1.45"/>
<circle cx="179.19" cy="838.86" r="1.45"/>
<circle cx="169.93" cy="856.32" r="1.45"/>
<circle cx="175.06" cy="850.95" r="1.45"/>
<circle cx="161.16" cy="840.48" r="1.45"/>
<circle cx="167.34" cy="849.3" r="1.45"/>
<circle cx="174.86" cy="849.41" r="1.45"/>
<circle cx="162.9" cy="839.3" r="1.45"/>
<circle cx="176.2" cy="844.44" r="1.45"/>
<circle cx="179.01" cy="843.52" r="1.45"/>
<circle cx="175.47" cy="848.78" r="1.45"/>
<circle cx="174.61" cy="851.02" r="1.45"/>
<circle cx="178.1" cy="840.52" r="1.45"/>
<circle cx="178.02" cy="842.67" r="1.45"/>
<circle cx="168.72" cy="854.26" r="1.45"/>
<circle cx="169.66" cy="852.51" r="1.45"/>
<circle cx="168.87" cy="855.04" r="1.45"/>
<circle cx="173.36" cy="849.89" r="1.45"/>
<circle cx="174.93" cy="849.41" r="1.45"/>
<circle cx="174.28" cy="845.22" r="1.45"/>
<circle cx="166.69" cy="850.99" r="1.45"/>
<circle cx="160.94" cy="840.41" r="1.45"/>
<circle cx="163.89" cy="850.72" r="1.45"/>
<circle cx="173.91" cy="852.88" r="1.45"/>
<circle cx="173.21" cy="859.61" r="1.45"/>
<circle cx="173.58" cy="851.49" r="1.45"/>
<circle cx="177.32" cy="838.94" r="1.45"/>
<circle cx="175.22" cy="848.2" r="1.45"/>
</g>
<path d="M112 603.8V613.8M121.8 607.5L113.8 614.5M95 618H106.3M113.8 616.3L130 618M104.5 626.3L101.3 640M122.5 626.3L123 640" fill="none" stroke="#7c7c7c" stroke-width="0.8"/>
<circle cx="107.5" cy="618" r="1.4" fill="#e8a020" stroke="#9a6a10" stroke-width="0.45"/>
<circle cx="110" cy="616.3" r="1.4" fill="#e8a020" stroke="#9a6a10" stroke-width="0.45"/>
<circle cx="111.3" cy="615.5" r="1.4" fill="#e8a020" stroke="#9a6a10" stroke-width="0.45"/>
<circle cx="108.6" cy="617.2" r="1.4" fill="#e8a020" stroke="#9a6a10" stroke-width="0.45"/>
<circle cx="104.5" cy="625" r="1.4" fill="#e8a020" stroke="#9a6a10" stroke-width="0.45"/>
<circle cx="122.5" cy="625" r="1.4" fill="#e8a020" stroke="#9a6a10" stroke-width="0.45"/>
<circle cx="121.4" cy="625" r="1.4" fill="#e8a020" stroke="#9a6a10" stroke-width="0.45"/>
<circle cx="206.3" cy="650" r="1.4" fill="#e8a020" stroke="#9a6a10" stroke-width="0.45"/>
<circle cx="96.3" cy="663.3" r="1.4" fill="#e8a020" stroke="#9a6a10" stroke-width="0.45"/>
<text x="88.8" y="601.5" font-size="11" font-weight="bold" fill="#4283bd" letter-spacing="0.3">COX7A2</text>
<text x="70.8" y="612" font-size="11" font-weight="bold" fill="#4283bd" letter-spacing="0.3">COX5A</text>
<text x="124.7" y="612" font-size="11" font-weight="bold" fill="#4283bd" letter-spacing="0.3">COX6B1</text>
<text x="55" y="623" font-size="11" font-weight="bold" fill="#4283bd" letter-spacing="0.3">COX6C</text>
<text x="133.2" y="622.8" font-size="11" font-weight="bold" fill="#4283bd" letter-spacing="0.3">COX5B</text>
<text x="60.8" y="635" font-size="11" font-weight="bold" fill="#4283bd" letter-spacing="0.3">COX7B</text>
<text x="127.5" y="636.3" font-size="11" font-weight="bold" fill="#4283bd" letter-spacing="0.3">COX6A1</text>
<text x="68.8" y="650.7" font-size="11" font-weight="bold" fill="#4283bd" letter-spacing="0.3">COX4I1</text>
<text x="117.7" y="650.6" font-size="11" font-weight="bold" fill="#4283bd" letter-spacing="0.3">NDUFA4</text>
<text x="185" y="656.3" font-size="11" font-weight="bold" fill="#4283bd" letter-spacing="0.3">CMPK2</text>
<text x="80.5" y="677" font-size="11" font-weight="bold" fill="#4283bd" letter-spacing="0.3">COX7C</text>
<rect x="52.7" y="573.8" width="172.5" height="306.1" fill="none" stroke="#363636" stroke-width="1.5"/>
<text x="48.2" y="603.1" font-size="11.3" text-anchor="end">2.5</text>
<text x="48.2" y="661.1" font-size="11.3" text-anchor="end">2.0</text>
<text x="48.2" y="719.1" font-size="11.3" text-anchor="end">1.5</text>
<text x="48.2" y="777.1" font-size="11.3" text-anchor="end">1.0</text>
<text x="48.2" y="835.1" font-size="11.3" text-anchor="end">0.5</text>
<text x="89.3" y="892.1" font-size="11.2" text-anchor="middle">−4</text>
<text x="129.7" y="892.1" font-size="11.2" text-anchor="middle">−2</text>
<text x="171.8" y="892.1" font-size="11.2" text-anchor="middle">0</text>
<text x="212.2" y="892.1" font-size="11.2" text-anchor="middle">2</text>
<text transform="translate(27.5 780) rotate(-90)" font-size="12.1">−log<tspan font-size="11.3" dy="3" dx="0.8" letter-spacing="0.5">10</tspan><tspan dy="-3" dx="0.6">(q−value)</tspan></text>
<text x="80" y="911.3" font-size="11.9">log<tspan font-size="8.3" dy="3">2</tspan><tspan dy="-3">(COX14</tspan><tspan font-size="7" dy="-4.3">M19I</tspan><tspan dy="4.3">/WT)</tspan></text>
</g>
<g id="panel-g">
<text x="253.8" y="548.8" font-size="13.5" font-weight="bold">g</text>
<text x="301.3" y="636.8" font-size="11.7" text-anchor="middle" transform="rotate(-90 301.3 636.8)">Complex IV activity (% of WT)</text>
<path d="M354.5 568.3V558.3H383.8V620" fill="none" stroke="#191919" stroke-width="1.3"/>
<text x="369.35" y="560.2" font-size="14" text-anchor="middle" font-weight="bold" letter-spacing="-0.55">*</text>
<path d="M411.4 590.6V558.3H440V667.5" fill="none" stroke="#191919" stroke-width="1.3"/>
<text x="425.9" y="560.2" font-size="14" text-anchor="middle" font-weight="bold" letter-spacing="-0.55">****</text>
<path d="M468.8 591.3V558.3H497V651.3" fill="none" stroke="#191919" stroke-width="1.3"/>
<text x="483.1" y="560.2" font-size="14" text-anchor="middle" font-weight="bold" letter-spacing="-0.55">****</text>
<path d="M525 562.5V558.3H553.8V595" fill="none" stroke="#191919" stroke-width="1.3"/>
<text x="539.6" y="560.2" font-size="14" text-anchor="middle" font-weight="bold" letter-spacing="-0.55">*</text>
<circle cx="348.75" cy="573.25" r="3.3" fill="#6cbf45"/>
<circle cx="361.25" cy="575.5" r="3.3" fill="#6cbf45"/>
<circle cx="355" cy="606.25" r="3.3" fill="#6cbf45"/>
<circle cx="355" cy="615.5" r="3.3" fill="#6cbf45"/>
<circle cx="355" cy="636.25" r="3.3" fill="#6cbf45"/>
<circle cx="405.6" cy="597.7" r="3.3" fill="#6cbf45"/>
<circle cx="411.9" cy="598.8" r="3.3" fill="#6cbf45"/>
<circle cx="418.1" cy="595" r="3.3" fill="#6cbf45"/>
<circle cx="405.6" cy="609.5" r="3.3" fill="#6cbf45"/>
<circle cx="418.1" cy="603.8" r="3.3" fill="#6cbf45"/>
<circle cx="462.5" cy="595.8" r="3.3" fill="#6cbf45"/>
<circle cx="474.5" cy="596.8" r="3.3" fill="#6cbf45"/>
<circle cx="462.5" cy="606.3" r="3.3" fill="#6cbf45"/>
<circle cx="468.8" cy="603" r="3.3" fill="#6cbf45"/>
<circle cx="474.5" cy="603.8" r="3.3" fill="#6cbf45"/>
<circle cx="525.5" cy="568.3" r="3.3" fill="#6cbf45"/>
<circle cx="525.5" cy="585.8" r="3.3" fill="#6cbf45"/>
<circle cx="525.5" cy="611.3" r="3.3" fill="#6cbf45"/>
<circle cx="525.5" cy="640" r="3.3" fill="#6cbf45"/>
<circle cx="377.5" cy="622.5" r="3.3" fill="#ff40ff"/>
<circle cx="389.5" cy="624.5" r="3.3" fill="#ff40ff"/>
<circle cx="384.25" cy="627" r="3.3" fill="#ff40ff"/>
<circle cx="380.75" cy="645" r="3.3" fill="#ff40ff"/>
<circle cx="387" cy="645" r="3.3" fill="#ff40ff"/>
<circle cx="434.3" cy="671.8" r="3.3" fill="#ff40ff"/>
<circle cx="442" cy="675" r="3.3" fill="#ff40ff"/>
<circle cx="446.3" cy="678" r="3.3" fill="#ff40ff"/>
<circle cx="440" cy="687.5" r="3.3" fill="#ff40ff"/>
<circle cx="437.5" cy="678.5" r="3.3" fill="#ff40ff"/>
<circle cx="491.3" cy="658.8" r="3.3" fill="#ff40ff"/>
<circle cx="498.8" cy="655.8" r="3.3" fill="#ff40ff"/>
<circle cx="491.3" cy="667.5" r="3.3" fill="#ff40ff"/>
<circle cx="499.5" cy="664.5" r="3.3" fill="#ff40ff"/>
<circle cx="503" cy="663.8" r="3.3" fill="#ff40ff"/>
<circle cx="553.6" cy="600" r="3.3" fill="#ff40ff"/>
<circle cx="553.6" cy="614.3" r="3.3" fill="#ff40ff"/>
<circle cx="553.6" cy="631.3" r="3.3" fill="#ff40ff"/>
<circle cx="559.5" cy="654.4" r="3.3" fill="#ff40ff"/>
<circle cx="547.8" cy="660" r="3.3" fill="#ff40ff"/>
<line x1="345.6" y1="601.25" x2="364.6" y2="601.25" stroke-width="1.3" stroke="#191919"/>
<path d="M355.1 589.25V613.25M350.1 589.25H360.1M350.1 613.25H360.1" fill="none" stroke="#191919" stroke-width="1.3"/>
<line x1="374.4" y1="632.5" x2="393.4" y2="632.5" stroke-width="1.3" stroke="#191919"/>
<path d="M383.9 627.5V638M378.9 627.5H388.9M378.9 638H388.9" fill="none" stroke="#191919" stroke-width="1.3"/>
<line x1="402.3" y1="601.25" x2="421.3" y2="601.25" stroke-width="1.3" stroke="#191919"/>
<path d="M411.8 599.25V603.75M406.8 599.25H416.8M406.8 603.75H416.8" fill="none" stroke="#191919" stroke-width="1.3"/>
<line x1="430.6" y1="678" x2="449.6" y2="678" stroke-width="1.3" stroke="#191919"/>
<path d="M440.1 675.2V680.6M435.1 675.2H445.1M435.1 680.6H445.1" fill="none" stroke="#191919" stroke-width="1.3"/>
<line x1="459.1" y1="601.25" x2="478.1" y2="601.25" stroke-width="1.3" stroke="#191919"/>
<path d="M468.6 599.4V603M463.6 599.4H473.6M463.6 603H473.6" fill="none" stroke="#191919" stroke-width="1.3"/>
<line x1="487.4" y1="662.5" x2="506.4" y2="662.5" stroke-width="1.3" stroke="#191919"/>
<path d="M496.9 661V664.1M491.9 661H501.9M491.9 664.1H501.9" fill="none" stroke="#191919" stroke-width="1.3"/>
<line x1="515.65" y1="601.25" x2="535.15" y2="601.25" stroke-width="1.3" stroke="#191919"/>
<path d="M525.4 585.75V616.75M520.4 585.75H530.4M520.4 616.75H530.4" fill="none" stroke="#191919" stroke-width="1.3"/>
<line x1="544.4" y1="631.75" x2="563.4" y2="631.75" stroke-width="1.3" stroke="#191919"/>
<path d="M553.9 620.5V643.25M548.9 620.5H558.9M548.9 643.25H558.9" fill="none" stroke="#191919" stroke-width="1.3"/>
<path d="M336.25 542.5V717.1H577.6" fill="none" stroke="#191919" stroke-width="1.5"/>
<line x1="331.2" y1="717.1" x2="336.25" y2="717.1" stroke-width="1.3" stroke="#191919"/>
<text x="327.7" y="721.2" font-size="11.5" text-anchor="end">0</text>
<line x1="331.2" y1="659.15" x2="336.25" y2="659.15" stroke-width="1.3" stroke="#191919"/>
<text x="327.7" y="663.25" font-size="11.5" text-anchor="end">50</text>
<line x1="331.2" y1="601.2" x2="336.25" y2="601.2" stroke-width="1.3" stroke="#191919"/>
<text x="327.7" y="605.3" font-size="11.5" text-anchor="end">100</text>
<line x1="331.2" y1="543.25" x2="336.25" y2="543.25" stroke-width="1.3" stroke="#191919"/>
<text x="327.7" y="547.35" font-size="11.5" text-anchor="end">150</text>
<line x1="368.2" y1="717.1" x2="368.2" y2="722.1" stroke-width="1.3" stroke="#191919"/>
<text x="368.5" y="733" font-size="11.5" text-anchor="middle">Brain</text>
<line x1="425" y1="717.1" x2="425" y2="722.1" stroke-width="1.3" stroke="#191919"/>
<text x="425.3" y="733" font-size="11.5" text-anchor="middle">Liver</text>
<line x1="481.9" y1="717.1" x2="481.9" y2="722.1" stroke-width="1.3" stroke="#191919"/>
<text x="480.7" y="733" font-size="11.5" text-anchor="middle">Heart</text>
<line x1="538.8" y1="717.1" x2="538.8" y2="722.1" stroke-width="1.3" stroke="#191919"/>
<text x="539.1" y="733" font-size="11.5" text-anchor="middle">Muscle</text>
<circle cx="590.8" cy="576.3" r="4.3" fill="#6cbf45"/>
<text x="601.5" y="580.5" font-size="11.8">WT</text>
<circle cx="591.4" cy="597.5" r="4.3" fill="#ff40ff"/>
<text x="603.5" y="602" font-size="11.5">COX14<tspan font-size="7.5" dy="-4.4" dx="0.3">M19I</tspan></text>
</g>
<g id="panel-h">
<text x="254.3" y="745.4" font-size="13.5" font-weight="bold">h</text>
<text x="289" y="842" font-size="12" text-anchor="middle" transform="rotate(-90 289 842)" letter-spacing="0.62">OCR (pMoles/min)</text>
<line x1="338.3" y1="772" x2="338.3" y2="923" stroke="#191919" stroke-dasharray="3.6 2.7"/>
<line x1="422" y1="772" x2="422" y2="923" stroke-width="1.3" stroke="#191919" stroke-dasharray="5.6 4"/>
<line x1="489.3" y1="772" x2="489.3" y2="923" stroke-width="1.3" stroke="#191919" stroke-dasharray="5.6 4"/>
<line x1="555.4" y1="772" x2="555.4" y2="923" stroke-width="1.3" stroke="#191919" stroke-dasharray="5.6 4"/>
<text x="328" y="765" font-size="11.6">Pyruvate</text>
<text x="396.3" y="765" font-size="11.5">Oligomycin</text>
<text x="474.3" y="765" font-size="11.5">CCCP</text>
<text x="544.3" y="765" font-size="11.5">KCN</text>
<path d="M323.2 763.3V923H599.7" fill="none" stroke="#191919" stroke-width="1.55"/>
<line x1="317.5" y1="923" x2="323.2" y2="923" stroke-width="1.4" stroke="#191919"/>
<text x="316" y="927.3" font-size="12" text-anchor="end">0</text>
<line x1="317.5" y1="870" x2="323.2" y2="870" stroke-width="1.4" stroke="#191919"/>
<text x="316" y="874.3" font-size="12" text-anchor="end">200</text>
<line x1="317.5" y1="817" x2="323.2" y2="817" stroke-width="1.4" stroke="#191919"/>
<text x="316" y="821.3" font-size="12" text-anchor="end">400</text>
<line x1="317.5" y1="764" x2="323.2" y2="764" stroke-width="1.4" stroke="#191919"/>
<text x="316" y="768.3" font-size="12" text-anchor="end">600</text>
<line x1="415" y1="923" x2="415" y2="928.5" stroke-width="1.4" stroke="#191919"/>
<text x="415.8" y="940.8" font-size="11.5" text-anchor="middle" letter-spacing="0.4">20</text>
<line x1="507" y1="923" x2="507" y2="928.5" stroke-width="1.4" stroke="#191919"/>
<text x="507.8" y="940.8" font-size="11.5" text-anchor="middle" letter-spacing="0.4">40</text>
<line x1="599" y1="923" x2="599" y2="928.5" stroke-width="1.4" stroke="#191919"/>
<text x="601.5" y="940.8" font-size="11.5" text-anchor="middle" letter-spacing="0.4">60</text>
<text x="466" y="954.5" font-size="11.5" text-anchor="middle" letter-spacing="0.45">Time (min)</text>
<path d="M369.25 827.5V851.75M364.75 827.5H373.75M364.75 851.75H373.75" fill="none" stroke="#6cbf45" stroke-width="1.2"/>
<path d="M390 828.25V848.75M385.5 828.25H394.5M385.5 848.75H394.5" fill="none" stroke="#6cbf45" stroke-width="1.2"/>
<path d="M411.25 830.5V848M406.75 830.5H415.75M406.75 848H415.75" fill="none" stroke="#6cbf45" stroke-width="1.2"/>
<path d="M435.5 847.5V862.75M431 847.5H440M431 862.75H440" fill="none" stroke="#6cbf45" stroke-width="1.2"/>
<path d="M458 847.5V862.75M453.5 847.5H462.5M453.5 862.75H462.5" fill="none" stroke="#6cbf45" stroke-width="1.2"/>
<path d="M479.5 851.25V866.25M475 851.25H484M475 866.25H484" fill="none" stroke="#6cbf45" stroke-width="1.2"/>
<path d="M502 792.5V812.5M497.5 792.5H506.5M497.5 812.5H506.5" fill="none" stroke="#6cbf45" stroke-width="1.2"/>
<path d="M523 797V814.25M518.5 797H527.5M518.5 814.25H527.5" fill="none" stroke="#6cbf45" stroke-width="1.2"/>
<path d="M544.25 800.5V815.75M539.75 800.5H548.75M539.75 815.75H548.75" fill="none" stroke="#6cbf45" stroke-width="1.2"/>
<path d="M567 854.5V877.75M562.5 854.5H571.5M562.5 877.75H571.5" fill="none" stroke="#6cbf45" stroke-width="1.2"/>
<path d="M590.75 855.25V877.5M586.25 855.25H595.25M586.25 877.5H595.25" fill="none" stroke="#6cbf45" stroke-width="1.2"/>
<path d="M326.75 925L369.25 839.5L390 838.75L411.25 839.3L435.5 855.4L458 855.4L479.5 858.6L502 802.5L523 805.75L544.25 808.25L567 866.5L590.75 866.5" fill="none" stroke="#6cbf45" stroke-width="1.25"/>
<circle cx="326.75" cy="925" r="3.3" fill="#6cbf45"/>
<circle cx="369.25" cy="839.5" r="3.3" fill="#6cbf45"/>
<circle cx="390" cy="838.75" r="3.3" fill="#6cbf45"/>
<circle cx="411.25" cy="839.3" r="3.3" fill="#6cbf45"/>
<circle cx="435.5" cy="855.4" r="3.3" fill="#6cbf45"/>
<circle cx="458" cy="855.4" r="3.3" fill="#6cbf45"/>
<circle cx="479.5" cy="858.6" r="3.3" fill="#6cbf45"/>
<circle cx="502" cy="802.5" r="3.3" fill="#6cbf45"/>
<circle cx="523" cy="805.75" r="3.3" fill="#6cbf45"/>
<circle cx="544.25" cy="808.25" r="3.3" fill="#6cbf45"/>
<circle cx="567" cy="866.5" r="3.3" fill="#6cbf45"/>
<circle cx="590.75" cy="866.5" r="3.3" fill="#6cbf45"/>
<path d="M369.25 863.25V880M364.75 863.25H373.75M364.75 880H373.75" fill="none" stroke="#ff40ff" stroke-width="1.2"/>
<path d="M390 863.5V880.5M385.5 863.5H394.5M385.5 880.5H394.5" fill="none" stroke="#ff40ff" stroke-width="1.2"/>
<path d="M411.25 865.75V881.25M406.75 865.75H415.75M406.75 881.25H415.75" fill="none" stroke="#ff40ff" stroke-width="1.2"/>
<path d="M435.5 877V887.75M431 877H440M431 887.75H440" fill="none" stroke="#ff40ff" stroke-width="1.2"/>
<path d="M458 880V889.5M453.5 880H462.5M453.5 889.5H462.5" fill="none" stroke="#ff40ff" stroke-width="1.2"/>
<path d="M479.5 883.25V894M475 883.25H484M475 894H484" fill="none" stroke="#ff40ff" stroke-width="1.2"/>
<path d="M502 858.75V870.75M497.5 858.75H506.5M497.5 870.75H506.5" fill="none" stroke="#ff40ff" stroke-width="1.2"/>
<path d="M523 857.5V869M518.5 857.5H527.5M518.5 869H527.5" fill="none" stroke="#ff40ff" stroke-width="1.2"/>
<path d="M544.25 856.5V868.75M539.75 856.5H548.75M539.75 868.75H548.75" fill="none" stroke="#ff40ff" stroke-width="1.2"/>
<path d="M567 881.5V895.75M562.5 881.5H571.5M562.5 895.75H571.5" fill="none" stroke="#ff40ff" stroke-width="1.2"/>
<path d="M590.75 887V898.75M586.25 887H595.25M586.25 898.75H595.25" fill="none" stroke="#ff40ff" stroke-width="1.2"/>
<path d="M326.75 925.25L369.25 872L390 872L411.25 873.75L435.5 882.5L458 885L479.5 888.25L502 864.5L523 863.25L544.25 862.75L567 888.75L590.75 892.75" fill="none" stroke="#ff40ff" stroke-width="1.25"/>
<rect x="323.5" y="922" width="6.5" height="6.5" fill="#ff40ff"/>
<rect x="366" y="868.75" width="6.5" height="6.5" fill="#ff40ff"/>
<rect x="386.75" y="868.75" width="6.5" height="6.5" fill="#ff40ff"/>
<rect x="408" y="870.5" width="6.5" height="6.5" fill="#ff40ff"/>
<rect x="432.25" y="879.25" width="6.5" height="6.5" fill="#ff40ff"/>
<rect x="454.75" y="881.75" width="6.5" height="6.5" fill="#ff40ff"/>
<rect x="476.25" y="885" width="6.5" height="6.5" fill="#ff40ff"/>
<rect x="498.75" y="861.25" width="6.5" height="6.5" fill="#ff40ff"/>
<rect x="519.75" y="860" width="6.5" height="6.5" fill="#ff40ff"/>
<rect x="541" y="859.5" width="6.5" height="6.5" fill="#ff40ff"/>
<rect x="563.75" y="885.5" width="6.5" height="6.5" fill="#ff40ff"/>
<rect x="587.5" y="889.5" width="6.5" height="6.5" fill="#ff40ff"/>
<line x1="591.5" y1="777.5" x2="605.3" y2="777.5" stroke-width="1.25" stroke="#6cbf45"/>
<circle cx="598.3" cy="777.5" r="3.3" fill="#6cbf45"/>
<text x="612.8" y="781.8" font-size="11.5">WT</text>
<line x1="591.5" y1="797.5" x2="605.3" y2="797.5" stroke-width="1.25" stroke="#ff40ff"/>
<rect x="595" y="794.25" width="6.5" height="6.5" fill="#ff40ff"/>
<text x="612.8" y="802.5" font-size="11.5">COX14<tspan font-size="7.5" dy="-3.3" dx="0.3">M19I</tspan></text>
</g>
</svg>
</body></html>
